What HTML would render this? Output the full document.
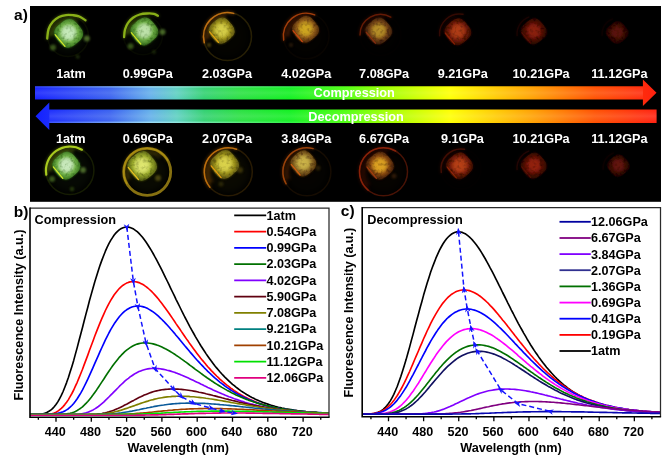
<!DOCTYPE html>
<html><head><meta charset="utf-8"><style>html,body{margin:0;padding:0;background:#fff}svg{display:block;will-change:transform;transform:translateZ(0)}</style></head><body>
<svg width="662" height="461" viewBox="0 0 662 461">
<rect width="662" height="461" fill="#fff"/>
<rect x="30" y="6" width="631" height="195.8" fill="#000"/>
<defs><filter id="b05" x="-30%" y="-30%" width="160%" height="160%"><feGaussianBlur stdDeviation="0.55"/></filter><filter id="b1" x="-30%" y="-30%" width="160%" height="160%"><feGaussianBlur stdDeviation="0.9"/></filter><filter id="b2" x="-30%" y="-30%" width="160%" height="160%"><feGaussianBlur stdDeviation="1.5"/></filter><filter id="b3" x="-30%" y="-30%" width="160%" height="160%"><feGaussianBlur stdDeviation="3.5"/></filter><radialGradient id="sg0" cx="0.5" cy="0.48" r="0.55"><stop offset="0" stop-color="#c8ecbc"/><stop offset="0.28" stop-color="#c8ecbc" stop-opacity="0.9"/><stop offset="0.58" stop-color="#70b048"/><stop offset="0.95" stop-color="#34701a"/></radialGradient><filter id="tx0" x="-20%" y="-20%" width="140%" height="140%"><feTurbulence type="fractalNoise" baseFrequency="0.3" numOctaves="2" seed="1" result="n"/><feColorMatrix in="n" type="matrix" values="0 0 0 0 1  0 0 0 0 1  0 0 0 0 1  1.9 0 0 0 0.02" result="a"/><feComposite in="SourceGraphic" in2="a" operator="in" result="c"/><feGaussianBlur in="c" stdDeviation="0.75"/></filter><radialGradient id="sg1" cx="0.5" cy="0.48" r="0.55"><stop offset="0" stop-color="#c0e4ac"/><stop offset="0.28" stop-color="#c0e4ac" stop-opacity="0.9"/><stop offset="0.58" stop-color="#6cac44"/><stop offset="0.95" stop-color="#346c1a"/></radialGradient><filter id="tx1" x="-20%" y="-20%" width="140%" height="140%"><feTurbulence type="fractalNoise" baseFrequency="0.3" numOctaves="2" seed="2" result="n"/><feColorMatrix in="n" type="matrix" values="0 0 0 0 1  0 0 0 0 1  0 0 0 0 1  1.9 0 0 0 0.02" result="a"/><feComposite in="SourceGraphic" in2="a" operator="in" result="c"/><feGaussianBlur in="c" stdDeviation="0.75"/></filter><radialGradient id="sg2" cx="0.5" cy="0.48" r="0.55"><stop offset="0" stop-color="#d8d048"/><stop offset="0.28" stop-color="#d8d048" stop-opacity="0.9"/><stop offset="0.58" stop-color="#a0941c"/><stop offset="0.95" stop-color="#585010"/></radialGradient><filter id="tx2" x="-20%" y="-20%" width="140%" height="140%"><feTurbulence type="fractalNoise" baseFrequency="0.3" numOctaves="2" seed="3" result="n"/><feColorMatrix in="n" type="matrix" values="0 0 0 0 1  0 0 0 0 1  0 0 0 0 1  1.9 0 0 0 0.02" result="a"/><feComposite in="SourceGraphic" in2="a" operator="in" result="c"/><feGaussianBlur in="c" stdDeviation="0.75"/></filter><radialGradient id="sg3" cx="0.5" cy="0.48" r="0.55"><stop offset="0" stop-color="#d0a820"/><stop offset="0.28" stop-color="#d0a820" stop-opacity="0.9"/><stop offset="0.58" stop-color="#94601a"/><stop offset="0.95" stop-color="#482408"/></radialGradient><filter id="tx3" x="-20%" y="-20%" width="140%" height="140%"><feTurbulence type="fractalNoise" baseFrequency="0.3" numOctaves="2" seed="4" result="n"/><feColorMatrix in="n" type="matrix" values="0 0 0 0 1  0 0 0 0 1  0 0 0 0 1  1.9 0 0 0 0.02" result="a"/><feComposite in="SourceGraphic" in2="a" operator="in" result="c"/><feGaussianBlur in="c" stdDeviation="0.75"/></filter><radialGradient id="sg4" cx="0.5" cy="0.48" r="0.55"><stop offset="0" stop-color="#b89028"/><stop offset="0.28" stop-color="#b89028" stop-opacity="0.9"/><stop offset="0.58" stop-color="#764616"/><stop offset="0.95" stop-color="#341808"/></radialGradient><filter id="tx4" x="-20%" y="-20%" width="140%" height="140%"><feTurbulence type="fractalNoise" baseFrequency="0.3" numOctaves="2" seed="5" result="n"/><feColorMatrix in="n" type="matrix" values="0 0 0 0 1  0 0 0 0 1  0 0 0 0 1  1.9 0 0 0 0.02" result="a"/><feComposite in="SourceGraphic" in2="a" operator="in" result="c"/><feGaussianBlur in="c" stdDeviation="0.75"/></filter><radialGradient id="sg5" cx="0.5" cy="0.48" r="0.55"><stop offset="0" stop-color="#b03c16"/><stop offset="0.28" stop-color="#b03c16" stop-opacity="0.9"/><stop offset="0.58" stop-color="#741c08"/><stop offset="0.95" stop-color="#300a04"/></radialGradient><filter id="tx5" x="-20%" y="-20%" width="140%" height="140%"><feTurbulence type="fractalNoise" baseFrequency="0.3" numOctaves="2" seed="6" result="n"/><feColorMatrix in="n" type="matrix" values="0 0 0 0 1  0 0 0 0 1  0 0 0 0 1  1.9 0 0 0 0.02" result="a"/><feComposite in="SourceGraphic" in2="a" operator="in" result="c"/><feGaussianBlur in="c" stdDeviation="0.75"/></filter><radialGradient id="sg6" cx="0.5" cy="0.48" r="0.55"><stop offset="0" stop-color="#8c200c"/><stop offset="0.28" stop-color="#8c200c" stop-opacity="0.9"/><stop offset="0.58" stop-color="#560c06"/><stop offset="0.95" stop-color="#200604"/></radialGradient><filter id="tx6" x="-20%" y="-20%" width="140%" height="140%"><feTurbulence type="fractalNoise" baseFrequency="0.3" numOctaves="2" seed="7" result="n"/><feColorMatrix in="n" type="matrix" values="0 0 0 0 1  0 0 0 0 1  0 0 0 0 1  1.9 0 0 0 0.02" result="a"/><feComposite in="SourceGraphic" in2="a" operator="in" result="c"/><feGaussianBlur in="c" stdDeviation="0.75"/></filter><radialGradient id="sg7" cx="0.5" cy="0.48" r="0.55"><stop offset="0" stop-color="#5c1208"/><stop offset="0.28" stop-color="#5c1208" stop-opacity="0.9"/><stop offset="0.58" stop-color="#380806"/><stop offset="0.95" stop-color="#160404"/></radialGradient><filter id="tx7" x="-20%" y="-20%" width="140%" height="140%"><feTurbulence type="fractalNoise" baseFrequency="0.3" numOctaves="2" seed="8" result="n"/><feColorMatrix in="n" type="matrix" values="0 0 0 0 1  0 0 0 0 1  0 0 0 0 1  1.9 0 0 0 0.02" result="a"/><feComposite in="SourceGraphic" in2="a" operator="in" result="c"/><feGaussianBlur in="c" stdDeviation="0.75"/></filter><radialGradient id="sg8" cx="0.5" cy="0.48" r="0.55"><stop offset="0" stop-color="#ccecc0"/><stop offset="0.28" stop-color="#ccecc0" stop-opacity="0.9"/><stop offset="0.58" stop-color="#74b44c"/><stop offset="0.95" stop-color="#34701a"/></radialGradient><filter id="tx8" x="-20%" y="-20%" width="140%" height="140%"><feTurbulence type="fractalNoise" baseFrequency="0.3" numOctaves="2" seed="9" result="n"/><feColorMatrix in="n" type="matrix" values="0 0 0 0 1  0 0 0 0 1  0 0 0 0 1  1.9 0 0 0 0.02" result="a"/><feComposite in="SourceGraphic" in2="a" operator="in" result="c"/><feGaussianBlur in="c" stdDeviation="0.75"/></filter><radialGradient id="sg9" cx="0.5" cy="0.48" r="0.55"><stop offset="0" stop-color="#e0e870"/><stop offset="0.28" stop-color="#e0e870" stop-opacity="0.9"/><stop offset="0.58" stop-color="#9cac2c"/><stop offset="0.95" stop-color="#4c5410"/></radialGradient><filter id="tx9" x="-20%" y="-20%" width="140%" height="140%"><feTurbulence type="fractalNoise" baseFrequency="0.3" numOctaves="2" seed="10" result="n"/><feColorMatrix in="n" type="matrix" values="0 0 0 0 1  0 0 0 0 1  0 0 0 0 1  1.9 0 0 0 0.02" result="a"/><feComposite in="SourceGraphic" in2="a" operator="in" result="c"/><feGaussianBlur in="c" stdDeviation="0.75"/></filter><radialGradient id="sg10" cx="0.5" cy="0.48" r="0.55"><stop offset="0" stop-color="#dcd44c"/><stop offset="0.28" stop-color="#dcd44c" stop-opacity="0.9"/><stop offset="0.58" stop-color="#a0961c"/><stop offset="0.95" stop-color="#585010"/></radialGradient><filter id="tx10" x="-20%" y="-20%" width="140%" height="140%"><feTurbulence type="fractalNoise" baseFrequency="0.3" numOctaves="2" seed="11" result="n"/><feColorMatrix in="n" type="matrix" values="0 0 0 0 1  0 0 0 0 1  0 0 0 0 1  1.9 0 0 0 0.02" result="a"/><feComposite in="SourceGraphic" in2="a" operator="in" result="c"/><feGaussianBlur in="c" stdDeviation="0.75"/></filter><radialGradient id="sg11" cx="0.5" cy="0.48" r="0.55"><stop offset="0" stop-color="#ccb448"/><stop offset="0.28" stop-color="#ccb448" stop-opacity="0.9"/><stop offset="0.58" stop-color="#907028"/><stop offset="0.95" stop-color="#4c2c08"/></radialGradient><filter id="tx11" x="-20%" y="-20%" width="140%" height="140%"><feTurbulence type="fractalNoise" baseFrequency="0.3" numOctaves="2" seed="12" result="n"/><feColorMatrix in="n" type="matrix" values="0 0 0 0 1  0 0 0 0 1  0 0 0 0 1  1.9 0 0 0 0.02" result="a"/><feComposite in="SourceGraphic" in2="a" operator="in" result="c"/><feGaussianBlur in="c" stdDeviation="0.75"/></filter><radialGradient id="sg12" cx="0.5" cy="0.48" r="0.55"><stop offset="0" stop-color="#e0a424"/><stop offset="0.28" stop-color="#e0a424" stop-opacity="0.9"/><stop offset="0.58" stop-color="#8c4c12"/><stop offset="0.95" stop-color="#381806"/></radialGradient><filter id="tx12" x="-20%" y="-20%" width="140%" height="140%"><feTurbulence type="fractalNoise" baseFrequency="0.3" numOctaves="2" seed="13" result="n"/><feColorMatrix in="n" type="matrix" values="0 0 0 0 1  0 0 0 0 1  0 0 0 0 1  1.9 0 0 0 0.02" result="a"/><feComposite in="SourceGraphic" in2="a" operator="in" result="c"/><feGaussianBlur in="c" stdDeviation="0.75"/></filter><radialGradient id="sg13" cx="0.5" cy="0.48" r="0.55"><stop offset="0" stop-color="#b84018"/><stop offset="0.28" stop-color="#b84018" stop-opacity="0.9"/><stop offset="0.58" stop-color="#7a1e08"/><stop offset="0.95" stop-color="#300a04"/></radialGradient><filter id="tx13" x="-20%" y="-20%" width="140%" height="140%"><feTurbulence type="fractalNoise" baseFrequency="0.3" numOctaves="2" seed="14" result="n"/><feColorMatrix in="n" type="matrix" values="0 0 0 0 1  0 0 0 0 1  0 0 0 0 1  1.9 0 0 0 0.02" result="a"/><feComposite in="SourceGraphic" in2="a" operator="in" result="c"/><feGaussianBlur in="c" stdDeviation="0.75"/></filter><radialGradient id="sg14" cx="0.5" cy="0.48" r="0.55"><stop offset="0" stop-color="#94220c"/><stop offset="0.28" stop-color="#94220c" stop-opacity="0.9"/><stop offset="0.58" stop-color="#5a0e06"/><stop offset="0.95" stop-color="#220604"/></radialGradient><filter id="tx14" x="-20%" y="-20%" width="140%" height="140%"><feTurbulence type="fractalNoise" baseFrequency="0.3" numOctaves="2" seed="15" result="n"/><feColorMatrix in="n" type="matrix" values="0 0 0 0 1  0 0 0 0 1  0 0 0 0 1  1.9 0 0 0 0.02" result="a"/><feComposite in="SourceGraphic" in2="a" operator="in" result="c"/><feGaussianBlur in="c" stdDeviation="0.75"/></filter><radialGradient id="sg15" cx="0.5" cy="0.48" r="0.55"><stop offset="0" stop-color="#64140a"/><stop offset="0.28" stop-color="#64140a" stop-opacity="0.9"/><stop offset="0.58" stop-color="#3c0a06"/><stop offset="0.95" stop-color="#160404"/></radialGradient><filter id="tx15" x="-20%" y="-20%" width="140%" height="140%"><feTurbulence type="fractalNoise" baseFrequency="0.3" numOctaves="2" seed="16" result="n"/><feColorMatrix in="n" type="matrix" values="0 0 0 0 1  0 0 0 0 1  0 0 0 0 1  1.9 0 0 0 0.02" result="a"/><feComposite in="SourceGraphic" in2="a" operator="in" result="c"/><feGaussianBlur in="c" stdDeviation="0.75"/></filter></defs>
<circle cx="68" cy="36" r="17.4" fill="#70b048" opacity="0.050" filter="url(#b3)"/><circle cx="68" cy="36" r="20.4" fill="none" stroke="#567010" stroke-width="1.5" opacity="0.1" filter="url(#b05)"/><path d="M47.2,38.5 C47.4,36.9 47.6,31.8 48.6,29.0 C49.6,26.2 51.3,23.6 53.0,21.6 C54.7,19.6 56.8,18.1 59.0,17.0 C61.2,15.9 63.7,15.4 66.0,15.1 C68.3,14.8 70.8,15.0 73.0,15.2 C75.2,15.4 76.9,15.5 79.0,16.4 C81.1,17.2 84.4,19.6 85.5,20.3" fill="none" stroke="#9cc81c" stroke-width="3" stroke-linecap="round" opacity="0.30" filter="url(#b2)"/><path d="M47.2,38.5 C47.4,36.9 47.6,31.8 48.6,29.0 C49.6,26.2 51.3,23.6 53.0,21.6 C54.7,19.6 56.8,18.1 59.0,17.0 C61.2,15.9 63.7,15.4 66.0,15.1 C68.3,14.8 70.8,15.0 73.0,15.2 C75.2,15.4 76.9,15.5 79.0,16.4 C81.1,17.2 84.4,19.6 85.5,20.3" fill="none" stroke="#9cc81c" stroke-width="2.3" stroke-linecap="round" opacity="0.85" filter="url(#b05)"/><path d="M51.6,36.5 A16.9,16.9 0 0 1 77.5,22.2" fill="none" stroke="#9cc81c" stroke-width="6" opacity="0.19" filter="url(#b2)"/><path d="M51.7,35.4 A17.4,17.4 0 0 1 74.1,20.9" fill="none" stroke="#9cc81c" stroke-width="1.2" opacity="0.26" filter="url(#b1)"/><circle cx="86.8" cy="38.5" r="3" fill="#5c8030" opacity="0.8" filter="url(#b1)"/><circle cx="53" cy="47.6" r="3" fill="#507828" opacity="0.7" filter="url(#b1)"/><circle cx="77.7" cy="56.7" r="2" fill="#304810" opacity="0.6" filter="url(#b1)"/><path d="M80.0,27.0 Q86.6,34.9 78.8,41.4 L74.9,44.7 Q67.0,51.3 60.5,43.5 L57.2,39.6 Q50.6,31.7 58.4,25.2 L62.3,21.9 Q70.2,15.3 76.7,23.1 Z" fill="#34701a" opacity="0.9" filter="url(#b1)"/><path d="M80.0,27.0 Q86.6,34.9 78.8,41.4 L74.9,44.7 Q67.0,51.3 60.5,43.5 L57.2,39.6 Q50.6,31.7 58.4,25.2 L62.3,21.9 Q70.2,15.3 76.7,23.1 Z" fill="url(#sg0)" filter="url(#tx0)"/><circle cx="68.6" cy="32.8" r="7.4" fill="#c8ecbc" opacity="0.55" filter="url(#b2)"/><path d="M55.1,34.6 L65.0,46.4" fill="none" stroke="#d8e828" stroke-width="1.2" stroke-linecap="round" stroke-linejoin="round" opacity="1.0" filter="url(#b05)"/><circle cx="143" cy="35.3" r="16.5" fill="#6cac44" opacity="0.045" filter="url(#b3)"/><circle cx="143" cy="35.3" r="19.5" fill="none" stroke="#506810" stroke-width="1.5" opacity="0.08" filter="url(#b05)"/><path d="M124.1,37.2 C124.2,35.9 124.3,31.9 125.0,29.5 C125.7,27.1 126.7,24.8 128.0,22.9 C129.3,20.9 131.1,19.2 133.0,17.8 C134.9,16.4 137.4,15.2 139.7,14.5 C142.0,13.8 144.6,13.6 147.0,13.5 C149.4,13.4 152.2,13.4 154.0,13.8 C155.8,14.2 157.2,15.5 157.9,15.8" fill="none" stroke="#9cc81c" stroke-width="3" stroke-linecap="round" opacity="0.30" filter="url(#b2)"/><path d="M124.1,37.2 C124.2,35.9 124.3,31.9 125.0,29.5 C125.7,27.1 126.7,24.8 128.0,22.9 C129.3,20.9 131.1,19.2 133.0,17.8 C134.9,16.4 137.4,15.2 139.7,14.5 C142.0,13.8 144.6,13.6 147.0,13.5 C149.4,13.4 152.2,13.4 154.0,13.8 C155.8,14.2 157.2,15.5 157.9,15.8" fill="none" stroke="#9cc81c" stroke-width="2.3" stroke-linecap="round" opacity="0.85" filter="url(#b05)"/><path d="M127.5,34.7 A16.0,16.0 0 0 1 149.5,21.0" fill="none" stroke="#9cc81c" stroke-width="6" opacity="0.19" filter="url(#b2)"/><path d="M127.8,33.7 A16.5,16.5 0 0 1 146.0,20.4" fill="none" stroke="#9cc81c" stroke-width="1.2" opacity="0.26" filter="url(#b1)"/><circle cx="162.5" cy="32" r="3" fill="#588030" opacity="0.8" filter="url(#b1)"/><circle cx="130.6" cy="46.3" r="3" fill="#4c7424" opacity="0.7" filter="url(#b1)"/><circle cx="154" cy="52" r="2" fill="#304810" opacity="0.5" filter="url(#b1)"/><path d="M155.4,25.3 Q161.7,32.9 154.2,39.3 L150.4,42.5 Q142.8,48.8 136.4,41.3 L133.2,37.5 Q126.9,29.9 134.4,23.5 L138.2,20.3 Q145.8,14.0 152.2,21.5 Z" fill="#346c1a" opacity="0.9" filter="url(#b1)"/><path d="M155.4,25.3 Q161.7,32.9 154.2,39.3 L150.4,42.5 Q142.8,48.8 136.4,41.3 L133.2,37.5 Q126.9,29.9 134.4,23.5 L138.2,20.3 Q145.8,14.0 152.2,21.5 Z" fill="url(#sg1)" filter="url(#tx1)"/><circle cx="144.3" cy="30.9" r="7.1" fill="#c0e4ac" opacity="0.55" filter="url(#b2)"/><path d="M131.3,32.6 L140.8,44.0" fill="none" stroke="#d0e020" stroke-width="1.2" stroke-linecap="round" stroke-linejoin="round" opacity="1.0" filter="url(#b05)"/><circle cx="227.5" cy="36.6" r="21" fill="#a0941c" opacity="0.025" filter="url(#b3)"/><circle cx="227.5" cy="36.6" r="24" fill="none" stroke="#6c5810" stroke-width="1.5" opacity="0.36" filter="url(#b05)"/><path d="M204.3,42.8 A24,24 0 0 1 233.7,13.4" fill="none" stroke="#c87414" stroke-width="3" stroke-linecap="round" opacity="0.32" filter="url(#b2)"/><path d="M204.3,42.8 A24,24 0 0 1 233.7,13.4" fill="none" stroke="#c87414" stroke-width="1.5" stroke-linecap="round" opacity="0.9" filter="url(#b05)"/><path d="M207.7,39.6 A20.5,20.5 0 0 1 226.2,16.7" fill="none" stroke="#c87414" stroke-width="6" opacity="0.20" filter="url(#b2)"/><path d="M207.5,38.1 A21,21 0 0 1 221.3,18.4" fill="none" stroke="#c87414" stroke-width="1.2" opacity="0.27" filter="url(#b1)"/><circle cx="209" cy="45" r="2.2" fill="#605010" opacity="0.7" filter="url(#b1)"/><path d="M232.1,25.0 Q238.0,32.1 230.9,38.1 L227.4,41.1 Q220.3,47.0 214.3,39.9 L211.3,36.4 Q205.4,29.3 212.5,23.3 L216.0,20.3 Q223.1,14.4 229.1,21.5 Z" fill="#585010" opacity="0.9" filter="url(#b1)"/><path d="M232.1,25.0 Q238.0,32.1 230.9,38.1 L227.4,41.1 Q220.3,47.0 214.3,39.9 L211.3,36.4 Q205.4,29.3 212.5,23.3 L216.0,20.3 Q223.1,14.4 229.1,21.5 Z" fill="url(#sg2)" filter="url(#tx2)"/><circle cx="221.7" cy="30.2" r="6.7" fill="#d8d048" opacity="0.55" filter="url(#b2)"/><path d="M209.6,31.8 L218.5,42.4" fill="none" stroke="#e8a410" stroke-width="1.2" stroke-linecap="round" stroke-linejoin="round" opacity="1.0" filter="url(#b05)"/><circle cx="306.2" cy="36" r="19.8" fill="#94601a" opacity="0.020" filter="url(#b3)"/><circle cx="306.2" cy="36" r="22.8" fill="none" stroke="#502808" stroke-width="1.5" opacity="0.1" filter="url(#b05)"/><path d="M283.7,40.0 A22.8,22.8 0 0 1 314.7,14.9" fill="none" stroke="#c84c10" stroke-width="3" stroke-linecap="round" opacity="0.26" filter="url(#b2)"/><path d="M283.7,40.0 A22.8,22.8 0 0 1 314.7,14.9" fill="none" stroke="#c84c10" stroke-width="1.5" stroke-linecap="round" opacity="0.75" filter="url(#b05)"/><path d="M287.4,37.2 A19.3,19.3 0 0 1 307.4,17.2" fill="none" stroke="#c84c10" stroke-width="6" opacity="0.17" filter="url(#b2)"/><path d="M287.5,35.8 A19.8,19.8 0 0 1 302.7,18.2" fill="none" stroke="#c84c10" stroke-width="1.2" opacity="0.22" filter="url(#b1)"/><circle cx="291" cy="45" r="2" fill="#503010" opacity="0.5" filter="url(#b1)"/><path d="M316.3,23.5 Q322.5,30.9 315.1,37.0 L311.5,40.1 Q304.1,46.3 298.0,38.9 L294.9,35.3 Q288.7,27.9 296.1,21.8 L299.7,18.7 Q307.1,12.5 313.2,19.9 Z" fill="#482408" opacity="0.9" filter="url(#b1)"/><path d="M316.3,23.5 Q322.5,30.9 315.1,37.0 L311.5,40.1 Q304.1,46.3 298.0,38.9 L294.9,35.3 Q288.7,27.9 296.1,21.8 L299.7,18.7 Q307.1,12.5 313.2,19.9 Z" fill="url(#sg3)" filter="url(#tx3)"/><circle cx="305.6" cy="28.9" r="6.9" fill="#d0a820" opacity="0.55" filter="url(#b2)"/><path d="M293.0,30.6 L302.3,41.6" fill="none" stroke="#cc4410" stroke-width="1.2" stroke-linecap="round" stroke-linejoin="round" opacity="1.0" filter="url(#b05)"/><circle cx="380.5" cy="35" r="17.5" fill="#764616" opacity="0.015" filter="url(#b3)"/><circle cx="380.5" cy="35" r="20.5" fill="none" stroke="#401004" stroke-width="1.5" opacity="0.04" filter="url(#b05)"/><path d="M360.0,35.0 A20.5,20.5 0 0 1 390.8,17.2" fill="none" stroke="#a02c08" stroke-width="3" stroke-linecap="round" opacity="0.19" filter="url(#b2)"/><path d="M360.0,35.0 A20.5,20.5 0 0 1 390.8,17.2" fill="none" stroke="#a02c08" stroke-width="1.5" stroke-linecap="round" opacity="0.55" filter="url(#b05)"/><path d="M364.2,33.1 A17.0,17.0 0 0 1 384.0,18.8" fill="none" stroke="#a02c08" stroke-width="6" opacity="0.12" filter="url(#b2)"/><path d="M364.6,32.0 A17.5,17.5 0 0 1 380.0,19.1" fill="none" stroke="#a02c08" stroke-width="1.2" opacity="0.17" filter="url(#b1)"/><path d="M389.4,25.1 Q395.6,32.5 388.2,38.6 L384.6,41.7 Q377.2,47.9 371.1,40.5 L368.0,36.9 Q361.8,29.5 369.2,23.4 L372.8,20.3 Q380.2,14.1 386.3,21.5 Z" fill="#341808" opacity="0.9" filter="url(#b1)"/><path d="M389.4,25.1 Q395.6,32.5 388.2,38.6 L384.6,41.7 Q377.2,47.9 371.1,40.5 L368.0,36.9 Q361.8,29.5 369.2,23.4 L372.8,20.3 Q380.2,14.1 386.3,21.5 Z" fill="url(#sg4)" filter="url(#tx4)"/><circle cx="378.7" cy="30.5" r="6.9" fill="#b89028" opacity="0.55" filter="url(#b2)"/><path d="M366.1,32.2 L375.4,43.2" fill="none" stroke="#a43010" stroke-width="1.2" stroke-linecap="round" stroke-linejoin="round" opacity="0.7" filter="url(#b05)"/><circle cx="459.5" cy="34" r="17" fill="#741c08" opacity="0.015" filter="url(#b3)"/><circle cx="459.5" cy="34" r="20" fill="none" stroke="#300804" stroke-width="1.5" opacity="0.03" filter="url(#b05)"/><path d="M439.6,35.7 A20,20 0 0 1 463.0,14.3" fill="none" stroke="#8c1c08" stroke-width="3" stroke-linecap="round" opacity="0.10" filter="url(#b2)"/><path d="M439.6,35.7 A20,20 0 0 1 463.0,14.3" fill="none" stroke="#8c1c08" stroke-width="1.5" stroke-linecap="round" opacity="0.3" filter="url(#b05)"/><path d="M443.5,33.6 A16.5,16.5 0 0 1 457.1,18.3" fill="none" stroke="#8c1c08" stroke-width="6" opacity="0.07" filter="url(#b2)"/><path d="M443.8,32.5 A17,17 0 0 1 453.3,20.1" fill="none" stroke="#8c1c08" stroke-width="1.2" opacity="0.09" filter="url(#b1)"/><path d="M468.5,25.9 Q474.7,33.3 467.3,39.4 L463.7,42.5 Q456.3,48.7 450.2,41.3 L447.1,37.7 Q440.9,30.3 448.3,24.2 L451.9,21.1 Q459.3,14.9 465.4,22.3 Z" fill="#300a04" opacity="0.9" filter="url(#b1)"/><path d="M468.5,25.9 Q474.7,33.3 467.3,39.4 L463.7,42.5 Q456.3,48.7 450.2,41.3 L447.1,37.7 Q440.9,30.3 448.3,24.2 L451.9,21.1 Q459.3,14.9 465.4,22.3 Z" fill="url(#sg5)" filter="url(#tx5)"/><circle cx="457.8" cy="31.3" r="6.9" fill="#b03c16" opacity="0.55" filter="url(#b2)"/><path d="M445.2,33.0 L454.5,44.0" fill="none" stroke="#b02808" stroke-width="1.2" stroke-linecap="round" stroke-linejoin="round" opacity="0.6" filter="url(#b05)"/><circle cx="535" cy="34" r="15" fill="#560c06" opacity="0.010" filter="url(#b3)"/><circle cx="535" cy="34" r="18" fill="none" stroke="#200404" stroke-width="1.5" opacity="0.02" filter="url(#b05)"/><path d="M517.1,35.6 A18,18 0 0 1 528.8,17.1" fill="none" stroke="#681008" stroke-width="3" stroke-linecap="round" opacity="0.07" filter="url(#b2)"/><path d="M517.1,35.6 A18,18 0 0 1 528.8,17.1" fill="none" stroke="#681008" stroke-width="1.5" stroke-linecap="round" opacity="0.2" filter="url(#b05)"/><path d="M521.0,33.7 A14.5,14.5 0 0 1 526.2,23.4" fill="none" stroke="#681008" stroke-width="6" opacity="0.04" filter="url(#b2)"/><path d="M521.2,32.9 A15,15 0 0 1 523.7,26.9" fill="none" stroke="#681008" stroke-width="1.2" opacity="0.06" filter="url(#b1)"/><path d="M544.2,25.7 Q550.1,32.8 543.0,38.8 L539.5,41.8 Q532.4,47.7 526.4,40.6 L523.4,37.1 Q517.5,30.0 524.6,24.0 L528.1,21.0 Q535.2,15.1 541.2,22.2 Z" fill="#200604" opacity="0.9" filter="url(#b1)"/><path d="M544.2,25.7 Q550.1,32.8 543.0,38.8 L539.5,41.8 Q532.4,47.7 526.4,40.6 L523.4,37.1 Q517.5,30.0 524.6,24.0 L528.1,21.0 Q535.2,15.1 541.2,22.2 Z" fill="url(#sg6)" filter="url(#tx6)"/><circle cx="533.8" cy="30.9" r="6.7" fill="#8c200c" opacity="0.55" filter="url(#b2)"/><path d="M521.7,32.5 L530.6,43.1" fill="none" stroke="#801408" stroke-width="1.2" stroke-linecap="round" stroke-linejoin="round" opacity="0.4" filter="url(#b05)"/><circle cx="618" cy="34" r="13" fill="#380806" opacity="0.010" filter="url(#b3)"/><circle cx="618" cy="34" r="16" fill="none" stroke="#200404" stroke-width="1.5" opacity="0.02" filter="url(#b05)"/><path d="M602.1,35.4 A16,16 0 0 1 612.5,19.0" fill="none" stroke="#400804" stroke-width="3" stroke-linecap="round" opacity="0.05" filter="url(#b2)"/><path d="M602.1,35.4 A16,16 0 0 1 612.5,19.0" fill="none" stroke="#400804" stroke-width="1.5" stroke-linecap="round" opacity="0.15" filter="url(#b05)"/><path d="M606.0,33.8 A12.5,12.5 0 0 1 610.5,24.9" fill="none" stroke="#400804" stroke-width="6" opacity="0.03" filter="url(#b2)"/><path d="M606.2,33.2 A13,13 0 0 1 608.4,28.0" fill="none" stroke="#400804" stroke-width="1.2" opacity="0.04" filter="url(#b1)"/><path d="M626.1,27.7 Q631.3,33.8 625.2,39.0 L622.1,41.5 Q616.0,46.7 610.8,40.6 L608.3,37.5 Q603.1,31.4 609.2,26.2 L612.3,23.7 Q618.4,18.5 623.6,24.6 Z" fill="#160404" opacity="0.9" filter="url(#b1)"/><path d="M626.1,27.7 Q631.3,33.8 625.2,39.0 L622.1,41.5 Q616.0,46.7 610.8,40.6 L608.3,37.5 Q603.1,31.4 609.2,26.2 L612.3,23.7 Q618.4,18.5 623.6,24.6 Z" fill="url(#sg7)" filter="url(#tx7)"/><circle cx="617.2" cy="32.1" r="5.8" fill="#5c1208" opacity="0.55" filter="url(#b2)"/><path d="M606.9,33.4 L614.6,42.6" fill="none" stroke="#500c06" stroke-width="1.2" stroke-linecap="round" stroke-linejoin="round" opacity="0.3" filter="url(#b05)"/><circle cx="69.9" cy="170.5" r="21" fill="#74b44c" opacity="0.050" filter="url(#b3)"/><circle cx="69.9" cy="170.5" r="24" fill="none" stroke="#607c10" stroke-width="1.5" opacity="0.22" filter="url(#b05)"/><path d="M46.3,174.7 A24,24 0 0 1 81.9,149.7" fill="none" stroke="#b4d820" stroke-width="3" stroke-linecap="round" opacity="0.32" filter="url(#b2)"/><path d="M46.3,174.7 A24,24 0 0 1 81.9,149.7" fill="none" stroke="#b4d820" stroke-width="2.2" stroke-linecap="round" opacity="0.9" filter="url(#b05)"/><path d="M49.9,171.7 A20.5,20.5 0 0 1 74.0,150.8" fill="none" stroke="#b4d820" stroke-width="6" opacity="0.20" filter="url(#b2)"/><path d="M50.0,170.2 A21,21 0 0 1 69.1,151.1" fill="none" stroke="#b4d820" stroke-width="1.2" opacity="0.27" filter="url(#b1)"/><circle cx="83" cy="170" r="3" fill="#5c8030" opacity="0.8" filter="url(#b1)"/><circle cx="52" cy="179" r="3" fill="#507828" opacity="0.7" filter="url(#b1)"/><circle cx="72" cy="189" r="2.2" fill="#3c5c14" opacity="0.6" filter="url(#b1)"/><path d="M77.4,159.6 Q83.7,167.2 76.2,173.6 L72.4,176.8 Q64.8,183.1 58.4,175.6 L55.2,171.8 Q48.9,164.2 56.4,157.8 L60.2,154.6 Q67.8,148.3 74.2,155.8 Z" fill="#34701a" opacity="0.9" filter="url(#b1)"/><path d="M77.4,159.6 Q83.7,167.2 76.2,173.6 L72.4,176.8 Q64.8,183.1 58.4,175.6 L55.2,171.8 Q48.9,164.2 56.4,157.8 L60.2,154.6 Q67.8,148.3 74.2,155.8 Z" fill="url(#sg8)" filter="url(#tx8)"/><circle cx="66.3" cy="165.2" r="7.1" fill="#ccecc0" opacity="0.55" filter="url(#b2)"/><path d="M53.3,166.9 L62.8,178.3" fill="none" stroke="#d8e828" stroke-width="1.2" stroke-linecap="round" stroke-linejoin="round" opacity="1.0" filter="url(#b05)"/><circle cx="147.2" cy="171.8" r="20.5" fill="#9cac2c" opacity="0.060" filter="url(#b3)"/><circle cx="147.2" cy="171.8" r="23.5" fill="none" stroke="#a88c14" stroke-width="2.8" opacity="0.8" filter="url(#b05)"/><path d="M126.8,183.6 A23.5,23.5 0 0 1 167.6,160.1" fill="none" stroke="#b89814" stroke-width="3" stroke-linecap="round" opacity="0.24" filter="url(#b2)"/><path d="M126.8,183.6 A23.5,23.5 0 0 1 167.6,160.1" fill="none" stroke="#b89814" stroke-width="1.5" stroke-linecap="round" opacity="0.7" filter="url(#b05)"/><path d="M129.2,179.8 A20.0,20.0 0 0 1 160.6,157.0" fill="none" stroke="#b89814" stroke-width="6" opacity="0.15" filter="url(#b2)"/><path d="M128.4,178.6 A20.5,20.5 0 0 1 156.9,154.7" fill="none" stroke="#b89814" stroke-width="1.2" opacity="0.21" filter="url(#b1)"/><circle cx="158" cy="178" r="3" fill="#706818" opacity="0.6" filter="url(#b1)"/><path d="M154.0,159.5 Q160.8,167.6 152.7,174.4 L148.7,177.8 Q140.6,184.6 133.8,176.5 L130.4,172.5 Q123.6,164.4 131.7,157.6 L135.7,154.2 Q143.8,147.4 150.6,155.5 Z" fill="#4c5410" opacity="0.9" filter="url(#b1)"/><path d="M154.0,159.5 Q160.8,167.6 152.7,174.4 L148.7,177.8 Q140.6,184.6 133.8,176.5 L130.4,172.5 Q123.6,164.4 131.7,157.6 L135.7,154.2 Q143.8,147.4 150.6,155.5 Z" fill="url(#sg9)" filter="url(#tx9)"/><circle cx="142.2" cy="165.5" r="7.6" fill="#e0e870" opacity="0.55" filter="url(#b2)"/><path d="M128.2,167.4 L138.4,179.5" fill="none" stroke="#e8c020" stroke-width="1.2" stroke-linecap="round" stroke-linejoin="round" opacity="1.0" filter="url(#b05)"/><circle cx="228.3" cy="171.8" r="21" fill="#a0961c" opacity="0.060" filter="url(#b3)"/><circle cx="228.3" cy="171.8" r="24" fill="none" stroke="#8c5c0c" stroke-width="1.5" opacity="0.28" filter="url(#b05)"/><path d="M209.9,187.2 A24,24 0 0 1 236.5,149.2" fill="none" stroke="#c87410" stroke-width="3" stroke-linecap="round" opacity="0.32" filter="url(#b2)"/><path d="M209.9,187.2 A24,24 0 0 1 236.5,149.2" fill="none" stroke="#c87410" stroke-width="1.5" stroke-linecap="round" opacity="0.9" filter="url(#b05)"/><path d="M211.4,183.2 A20.5,20.5 0 0 1 228.8,151.8" fill="none" stroke="#c87410" stroke-width="6" opacity="0.20" filter="url(#b2)"/><path d="M210.3,182.2 A21,21 0 0 1 223.9,153.0" fill="none" stroke="#c87410" stroke-width="1.2" opacity="0.27" filter="url(#b1)"/><circle cx="240" cy="170" r="3" fill="#5c5010" opacity="0.6" filter="url(#b1)"/><circle cx="221" cy="184" r="2.5" fill="#4c4410" opacity="0.5" filter="url(#b1)"/><path d="M236.1,158.2 Q242.7,166.1 234.9,172.6 L231.0,175.9 Q223.1,182.5 216.6,174.7 L213.3,170.8 Q206.7,162.9 214.5,156.4 L218.4,153.1 Q226.3,146.5 232.8,154.3 Z" fill="#585010" opacity="0.9" filter="url(#b1)"/><path d="M236.1,158.2 Q242.7,166.1 234.9,172.6 L231.0,175.9 Q223.1,182.5 216.6,174.7 L213.3,170.8 Q206.7,162.9 214.5,156.4 L218.4,153.1 Q226.3,146.5 232.8,154.3 Z" fill="url(#sg10)" filter="url(#tx10)"/><circle cx="224.7" cy="164.0" r="7.4" fill="#dcd44c" opacity="0.55" filter="url(#b2)"/><path d="M211.2,165.8 L221.1,177.6" fill="none" stroke="#e89c10" stroke-width="1.2" stroke-linecap="round" stroke-linejoin="round" opacity="1.0" filter="url(#b05)"/><circle cx="306.9" cy="171.8" r="21" fill="#907028" opacity="0.030" filter="url(#b3)"/><circle cx="306.9" cy="171.8" r="24" fill="none" stroke="#6c3c08" stroke-width="1.5" opacity="0.2" filter="url(#b05)"/><path d="M286.1,183.8 A24,24 0 0 1 313.1,148.6" fill="none" stroke="#c45410" stroke-width="3" stroke-linecap="round" opacity="0.24" filter="url(#b2)"/><path d="M286.1,183.8 A24,24 0 0 1 313.1,148.6" fill="none" stroke="#c45410" stroke-width="1.5" stroke-linecap="round" opacity="0.7" filter="url(#b05)"/><path d="M288.4,180.0 A20.5,20.5 0 0 1 305.6,151.9" fill="none" stroke="#c45410" stroke-width="6" opacity="0.15" filter="url(#b2)"/><path d="M287.6,178.7 A21,21 0 0 1 300.7,153.6" fill="none" stroke="#c45410" stroke-width="1.2" opacity="0.21" filter="url(#b1)"/><circle cx="318" cy="168" r="2.5" fill="#503c10" opacity="0.5" filter="url(#b1)"/><path d="M313.7,157.6 Q319.6,164.7 312.5,170.7 L309.0,173.7 Q301.9,179.6 295.9,172.5 L292.9,169.0 Q287.0,161.9 294.1,155.9 L297.6,152.9 Q304.7,147.0 310.7,154.1 Z" fill="#4c2c08" opacity="0.9" filter="url(#b1)"/><path d="M313.7,157.6 Q319.6,164.7 312.5,170.7 L309.0,173.7 Q301.9,179.6 295.9,172.5 L292.9,169.0 Q287.0,161.9 294.1,155.9 L297.6,152.9 Q304.7,147.0 310.7,154.1 Z" fill="url(#sg11)" filter="url(#tx11)"/><circle cx="303.3" cy="162.8" r="6.7" fill="#ccb448" opacity="0.55" filter="url(#b2)"/><path d="M291.2,164.4 L300.1,175.0" fill="none" stroke="#d05c10" stroke-width="1.2" stroke-linecap="round" stroke-linejoin="round" opacity="1.0" filter="url(#b05)"/><circle cx="383.5" cy="171.8" r="21" fill="#8c4c12" opacity="0.040" filter="url(#b3)"/><circle cx="383.5" cy="171.8" r="24" fill="none" stroke="#a02a0c" stroke-width="1.5" opacity="0.45" filter="url(#b05)"/><path d="M368.1,190.2 A24,24 0 0 1 395.5,151.0" fill="none" stroke="#b02c0c" stroke-width="3" stroke-linecap="round" opacity="0.19" filter="url(#b2)"/><path d="M368.1,190.2 A24,24 0 0 1 395.5,151.0" fill="none" stroke="#b02c0c" stroke-width="1.5" stroke-linecap="round" opacity="0.55" filter="url(#b05)"/><path d="M368.8,186.0 A20.5,20.5 0 0 1 387.6,152.1" fill="none" stroke="#b02c0c" stroke-width="6" opacity="0.12" filter="url(#b2)"/><path d="M367.3,185.3 A21,21 0 0 1 382.7,152.4" fill="none" stroke="#b02c0c" stroke-width="1.2" opacity="0.17" filter="url(#b1)"/><circle cx="394" cy="176" r="2.5" fill="#583010" opacity="0.5" filter="url(#b1)"/><path d="M391.0,159.6 Q397.3,167.2 389.8,173.6 L386.0,176.8 Q378.4,183.1 372.0,175.6 L368.8,171.8 Q362.5,164.2 370.0,157.8 L373.8,154.6 Q381.4,148.3 387.8,155.8 Z" fill="#381806" opacity="0.9" filter="url(#b1)"/><path d="M391.0,159.6 Q397.3,167.2 389.8,173.6 L386.0,176.8 Q378.4,183.1 372.0,175.6 L368.8,171.8 Q362.5,164.2 370.0,157.8 L373.8,154.6 Q381.4,148.3 387.8,155.8 Z" fill="url(#sg12)" filter="url(#tx12)"/><circle cx="379.9" cy="165.2" r="7.1" fill="#e0a424" opacity="0.55" filter="url(#b2)"/><path d="M366.9,166.9 L376.4,178.3" fill="none" stroke="#c04010" stroke-width="1.2" stroke-linecap="round" stroke-linejoin="round" opacity="0.7" filter="url(#b05)"/><circle cx="461" cy="169" r="17" fill="#7a1e08" opacity="0.020" filter="url(#b3)"/><circle cx="461" cy="169" r="20" fill="none" stroke="#300804" stroke-width="1.5" opacity="0.05" filter="url(#b05)"/><path d="M441.3,172.5 A20,20 0 0 1 464.5,149.3" fill="none" stroke="#9c2008" stroke-width="3" stroke-linecap="round" opacity="0.12" filter="url(#b2)"/><path d="M441.3,172.5 A20,20 0 0 1 464.5,149.3" fill="none" stroke="#9c2008" stroke-width="1.5" stroke-linecap="round" opacity="0.35" filter="url(#b05)"/><path d="M445.0,170.1 A16.5,16.5 0 0 1 458.6,153.3" fill="none" stroke="#9c2008" stroke-width="6" opacity="0.08" filter="url(#b2)"/><path d="M445.1,169.0 A17,17 0 0 1 454.8,155.1" fill="none" stroke="#9c2008" stroke-width="1.2" opacity="0.10" filter="url(#b1)"/><path d="M470.3,159.8 Q476.5,167.2 469.1,173.3 L465.5,176.4 Q458.1,182.6 452.0,175.2 L448.9,171.6 Q442.7,164.2 450.1,158.1 L453.7,155.0 Q461.1,148.8 467.2,156.2 Z" fill="#300a04" opacity="0.9" filter="url(#b1)"/><path d="M470.3,159.8 Q476.5,167.2 469.1,173.3 L465.5,176.4 Q458.1,182.6 452.0,175.2 L448.9,171.6 Q442.7,164.2 450.1,158.1 L453.7,155.0 Q461.1,148.8 467.2,156.2 Z" fill="url(#sg13)" filter="url(#tx13)"/><circle cx="459.6" cy="165.2" r="6.9" fill="#b84018" opacity="0.55" filter="url(#b2)"/><path d="M447.0,166.9 L456.3,177.9" fill="none" stroke="#b03008" stroke-width="1.2" stroke-linecap="round" stroke-linejoin="round" opacity="0.6" filter="url(#b05)"/><circle cx="535" cy="168" r="15" fill="#5a0e06" opacity="0.010" filter="url(#b3)"/><circle cx="535" cy="168" r="18" fill="none" stroke="#200404" stroke-width="1.5" opacity="0.02" filter="url(#b05)"/><path d="M517.1,169.6 A18,18 0 0 1 528.8,151.1" fill="none" stroke="#701008" stroke-width="3" stroke-linecap="round" opacity="0.09" filter="url(#b2)"/><path d="M517.1,169.6 A18,18 0 0 1 528.8,151.1" fill="none" stroke="#701008" stroke-width="1.5" stroke-linecap="round" opacity="0.25" filter="url(#b05)"/><path d="M521.0,167.7 A14.5,14.5 0 0 1 526.2,157.4" fill="none" stroke="#701008" stroke-width="6" opacity="0.06" filter="url(#b2)"/><path d="M521.2,166.9 A15,15 0 0 1 523.7,160.9" fill="none" stroke="#701008" stroke-width="1.2" opacity="0.07" filter="url(#b1)"/><path d="M544.2,160.0 Q550.1,167.1 543.0,173.1 L539.5,176.1 Q532.4,182.0 526.4,174.9 L523.4,171.4 Q517.5,164.3 524.6,158.3 L528.1,155.3 Q535.2,149.4 541.2,156.5 Z" fill="#220604" opacity="0.9" filter="url(#b1)"/><path d="M544.2,160.0 Q550.1,167.1 543.0,173.1 L539.5,176.1 Q532.4,182.0 526.4,174.9 L523.4,171.4 Q517.5,164.3 524.6,158.3 L528.1,155.3 Q535.2,149.4 541.2,156.5 Z" fill="url(#sg14)" filter="url(#tx14)"/><circle cx="533.8" cy="165.2" r="6.7" fill="#94220c" opacity="0.55" filter="url(#b2)"/><path d="M521.7,166.8 L530.6,177.4" fill="none" stroke="#801408" stroke-width="1.2" stroke-linecap="round" stroke-linejoin="round" opacity="0.4" filter="url(#b05)"/><circle cx="619" cy="168" r="13" fill="#3c0a06" opacity="0.010" filter="url(#b3)"/><circle cx="619" cy="168" r="16" fill="none" stroke="#200404" stroke-width="1.5" opacity="0.02" filter="url(#b05)"/><path d="M603.1,169.4 A16,16 0 0 1 613.5,153.0" fill="none" stroke="#400804" stroke-width="3" stroke-linecap="round" opacity="0.05" filter="url(#b2)"/><path d="M603.1,169.4 A16,16 0 0 1 613.5,153.0" fill="none" stroke="#400804" stroke-width="1.5" stroke-linecap="round" opacity="0.15" filter="url(#b05)"/><path d="M607.0,167.8 A12.5,12.5 0 0 1 611.5,158.9" fill="none" stroke="#400804" stroke-width="6" opacity="0.03" filter="url(#b2)"/><path d="M607.2,167.2 A13,13 0 0 1 609.4,162.0" fill="none" stroke="#400804" stroke-width="1.2" opacity="0.04" filter="url(#b1)"/><path d="M627.3,160.8 Q632.5,166.9 626.4,172.1 L623.3,174.6 Q617.2,179.8 612.0,173.7 L609.5,170.6 Q604.3,164.5 610.4,159.3 L613.5,156.8 Q619.6,151.6 624.8,157.7 Z" fill="#160404" opacity="0.9" filter="url(#b1)"/><path d="M627.3,160.8 Q632.5,166.9 626.4,172.1 L623.3,174.6 Q617.2,179.8 612.0,173.7 L609.5,170.6 Q604.3,164.5 610.4,159.3 L613.5,156.8 Q619.6,151.6 624.8,157.7 Z" fill="url(#sg15)" filter="url(#tx15)"/><circle cx="618.4" cy="165.2" r="5.8" fill="#64140a" opacity="0.55" filter="url(#b2)"/><path d="M608.1,166.5 L615.8,175.7" fill="none" stroke="#500c06" stroke-width="1.2" stroke-linecap="round" stroke-linejoin="round" opacity="0.3" filter="url(#b05)"/>
<defs><linearGradient id="rb" gradientUnits="userSpaceOnUse" x1="35" y1="0" x2="657" y2="0">
<stop offset="0" stop-color="#1420ff"/>
<stop offset="0.12" stop-color="#3860f0"/>
<stop offset="0.185" stop-color="#62aeea"/>
<stop offset="0.228" stop-color="#5ccfc0"/>
<stop offset="0.272" stop-color="#30d070"/>
<stop offset="0.33" stop-color="#28e040"/>
<stop offset="0.41" stop-color="#10f020"/>
<stop offset="0.5" stop-color="#50ff10"/>
<stop offset="0.565" stop-color="#a0ff00"/>
<stop offset="0.668" stop-color="#ffff00"/>
<stop offset="0.80" stop-color="#ffa000"/>
<stop offset="0.90" stop-color="#ff5000"/>
<stop offset="1" stop-color="#ff2010"/>
</linearGradient></defs>
<defs><linearGradient id="vh" x1="0" y1="0" x2="0" y2="1"><stop offset="0" stop-color="#fff" stop-opacity="0"/><stop offset="0.5" stop-color="#fff" stop-opacity="0.13"/><stop offset="1" stop-color="#fff" stop-opacity="0"/></linearGradient></defs>
<path d="M35,86.2 L642.9,86.2 L642.9,79.6 L656.5,92.8 L642.9,106 L642.9,99.6 L35,99.6 Z" fill="url(#rb)"/>
<path d="M656.6,109.4 L49.3,109.4 L49.3,102.6 L35.5,116.2 L49.3,130 L49.3,122.9 L656.6,122.9 Z" fill="url(#rb)"/>
<defs><linearGradient id="hl" gradientUnits="userSpaceOnUse" x1="35" y1="0" x2="360" y2="0"><stop offset="0" stop-color="#c8ffff" stop-opacity="0.15"/><stop offset="0.35" stop-color="#c8ffff" stop-opacity="0.6"/><stop offset="1" stop-color="#c8ffff" stop-opacity="0"/></linearGradient></defs>
<rect x="35" y="86.2" width="325" height="1.3" fill="url(#hl)"/>
<rect x="49.3" y="121.6" width="311" height="1.3" fill="url(#hl)"/>
<rect x="35" y="86.2" width="608" height="13.4" fill="url(#vh)"/>
<rect x="49.3" y="109.4" width="607.3" height="13.5" fill="url(#vh)"/>
<text transform="translate(354.2,97.4) scale(1.05,1)" text-anchor="middle" fill="#fff" font-size="12.15" font-family="Liberation Sans, sans-serif" font-weight="bold">Compression</text>
<text transform="translate(356.1,121.1) scale(1.05,1)" text-anchor="middle" fill="#fff" font-size="12.15" font-family="Liberation Sans, sans-serif" font-weight="bold">Decompression</text>
<text transform="translate(71,78) scale(1.045,1)" text-anchor="middle" fill="#fff" font-size="12.15" font-family="Liberation Sans, sans-serif" font-weight="bold">1atm</text>
<text transform="translate(147.8,78) scale(1.045,1)" text-anchor="middle" fill="#fff" font-size="12.15" font-family="Liberation Sans, sans-serif" font-weight="bold">0.99GPa</text>
<text transform="translate(227,78) scale(1.045,1)" text-anchor="middle" fill="#fff" font-size="12.15" font-family="Liberation Sans, sans-serif" font-weight="bold">2.03GPa</text>
<text transform="translate(306.3,78) scale(1.045,1)" text-anchor="middle" fill="#fff" font-size="12.15" font-family="Liberation Sans, sans-serif" font-weight="bold">4.02GPa</text>
<text transform="translate(384.1,78) scale(1.045,1)" text-anchor="middle" fill="#fff" font-size="12.15" font-family="Liberation Sans, sans-serif" font-weight="bold">7.08GPa</text>
<text transform="translate(462.7,78) scale(1.045,1)" text-anchor="middle" fill="#fff" font-size="12.15" font-family="Liberation Sans, sans-serif" font-weight="bold">9.21GPa</text>
<text transform="translate(541.1,78) scale(1.045,1)" text-anchor="middle" fill="#fff" font-size="12.15" font-family="Liberation Sans, sans-serif" font-weight="bold">10.21GPa</text>
<text transform="translate(619.4,78) scale(1.045,1)" text-anchor="middle" fill="#fff" font-size="12.15" font-family="Liberation Sans, sans-serif" font-weight="bold">11.12GPa</text>
<text transform="translate(70.8,142.8) scale(1.045,1)" text-anchor="middle" fill="#fff" font-size="12.15" font-family="Liberation Sans, sans-serif" font-weight="bold">1atm</text>
<text transform="translate(147.8,142.8) scale(1.045,1)" text-anchor="middle" fill="#fff" font-size="12.15" font-family="Liberation Sans, sans-serif" font-weight="bold">0.69GPa</text>
<text transform="translate(227,142.8) scale(1.045,1)" text-anchor="middle" fill="#fff" font-size="12.15" font-family="Liberation Sans, sans-serif" font-weight="bold">2.07GPa</text>
<text transform="translate(306.3,142.8) scale(1.045,1)" text-anchor="middle" fill="#fff" font-size="12.15" font-family="Liberation Sans, sans-serif" font-weight="bold">3.84GPa</text>
<text transform="translate(384.1,142.8) scale(1.045,1)" text-anchor="middle" fill="#fff" font-size="12.15" font-family="Liberation Sans, sans-serif" font-weight="bold">6.67GPa</text>
<text transform="translate(462.4,142.8) scale(1.045,1)" text-anchor="middle" fill="#fff" font-size="12.15" font-family="Liberation Sans, sans-serif" font-weight="bold">9.1GPa</text>
<text transform="translate(541.1,142.8) scale(1.045,1)" text-anchor="middle" fill="#fff" font-size="12.15" font-family="Liberation Sans, sans-serif" font-weight="bold">10.21GPa</text>
<text transform="translate(619.4,142.8) scale(1.045,1)" text-anchor="middle" fill="#fff" font-size="12.15" font-family="Liberation Sans, sans-serif" font-weight="bold">11.12GPa</text>
<text transform="translate(14.0,19.6) scale(1.05,1)" fill="#000" font-size="14.8" font-family="Liberation Sans, sans-serif" font-weight="bold">a)</text>
<rect x="30" y="208" width="299" height="209.3" fill="#fff" stroke="none"/>
<defs><clipPath id="clipb"><rect x="30" y="208" width="299" height="209.3"/></clipPath></defs>
<g clip-path="url(#clipb)" fill="none" stroke-width="1.65" stroke-linejoin="round"><path d="M27.8,414.5 29.5,414.5 31.3,414.5 33.1,414.5 34.8,414.4 36.6,414.4 38.4,414.3 40.1,414.1 41.9,413.9 43.6,413.5 45.4,413.0 47.2,412.3 48.9,411.3 50.7,410.1 52.5,408.6 54.2,406.7 56.0,404.5 57.8,401.9 59.5,398.8 61.3,395.4 63.1,391.5 64.8,387.3 66.6,382.6 68.4,377.5 70.1,372.1 71.9,366.4 73.7,360.4 75.4,354.1 77.2,347.6 78.9,341.0 80.7,334.3 82.5,327.5 84.2,320.7 86.0,313.9 87.8,307.2 89.5,300.5 91.3,294.1 93.1,287.8 94.8,281.7 96.6,275.9 98.4,270.3 100.1,265.1 101.9,260.1 103.7,255.5 105.4,251.2 107.2,247.2 108.9,243.7 110.7,240.4 112.5,237.6 114.2,235.0 116.0,232.9 117.8,231.1 119.5,229.6 121.3,228.5 123.1,227.7 124.8,227.2 126.6,227.0 128.4,227.1 130.1,227.5 131.9,228.2 133.7,229.1 135.4,230.3 137.2,231.7 139.0,233.4 140.7,235.2 142.5,237.3 144.2,239.6 146.0,242.1 147.8,244.7 149.5,247.5 151.3,250.4 153.1,253.5 154.8,256.7 156.6,259.9 158.4,263.3 160.1,266.7 161.9,270.2 163.7,273.8 165.4,277.4 167.2,281.0 169.0,284.7 170.7,288.3 172.5,292.0 174.3,295.6 176.0,299.3 177.8,302.9 179.6,306.5 181.3,310.0 183.1,313.6 184.8,317.0 186.6,320.4 188.4,323.8 190.1,327.1 191.9,330.3 193.7,333.5 195.4,336.6 197.2,339.6 199.0,342.6 200.7,345.5 202.5,348.3 204.3,351.0 206.0,353.6 207.8,356.2 209.6,358.7 211.3,361.1 213.1,363.5 214.8,365.7 216.6,367.9 218.4,370.0 220.1,372.0 221.9,374.0 223.7,375.9 225.4,377.7 227.2,379.4 229.0,381.1 230.7,382.7 232.5,384.3 234.3,385.7 236.0,387.2 237.8,388.5 239.6,389.8 241.3,391.1 243.1,392.3 244.9,393.4 246.6,394.5 248.4,395.5 250.1,396.5 251.9,397.5 253.7,398.3 255.4,399.2 257.2,400.0 259.0,400.8 260.7,401.5 262.5,402.2 264.3,402.9 266.0,403.5 267.8,404.1 269.6,404.7 271.3,405.3 273.1,405.8 274.9,406.3 276.6,406.7 278.4,407.2 280.2,407.6 281.9,408.0 283.7,408.3 285.4,408.7 287.2,409.0 289.0,409.3 290.7,409.6 292.5,409.9 294.3,410.2 296.0,410.4 297.8,410.7 299.6,410.9 301.3,411.1 303.1,411.3 304.9,411.5 306.6,411.7 308.4,411.8 310.2,412.0 311.9,412.2 313.7,412.3 315.5,412.4 317.2,412.6 319.0,412.7 320.8,412.8 322.5,412.9 324.3,413.0 326.0,413.1 327.8,413.2 329.6,413.2 331.3,413.3" stroke="#000000"/><path d="M27.8,415.1 29.5,415.1 31.3,415.1 33.1,415.1 34.8,415.1 36.6,415.1 38.4,415.1 40.1,415.1 41.9,415.0 43.6,415.0 45.4,414.9 47.2,414.7 48.9,414.4 50.7,414.1 52.5,413.6 54.2,413.0 56.0,412.2 57.8,411.2 59.5,409.9 61.3,408.4 63.1,406.6 64.8,404.6 66.6,402.2 68.4,399.6 70.1,396.7 71.9,393.5 73.7,390.0 75.4,386.2 77.2,382.3 78.9,378.1 80.7,373.7 82.5,369.2 84.2,364.6 86.0,359.9 87.8,355.1 89.5,350.3 91.3,345.5 93.1,340.7 94.8,336.0 96.6,331.4 98.4,326.9 100.1,322.6 101.9,318.4 103.7,314.4 105.4,310.5 107.2,306.9 108.9,303.6 110.7,300.4 112.5,297.5 114.2,294.8 116.0,292.4 117.8,290.2 119.5,288.3 121.3,286.7 123.1,285.2 124.8,284.1 126.6,283.1 128.4,282.4 130.1,281.9 131.9,281.7 133.7,281.6 135.4,281.7 137.2,282.1 139.0,282.6 140.7,283.4 142.5,284.3 144.2,285.3 146.0,286.6 147.8,288.0 149.5,289.5 151.3,291.2 153.1,293.0 154.8,294.9 156.6,296.9 158.4,299.0 160.1,301.3 161.9,303.5 163.7,305.9 165.4,308.3 167.2,310.8 169.0,313.3 170.7,315.8 172.5,318.4 174.3,321.0 176.0,323.6 177.8,326.2 179.6,328.8 181.3,331.4 183.1,334.0 184.8,336.5 186.6,339.1 188.4,341.6 190.1,344.1 191.9,346.5 193.7,349.0 195.4,351.3 197.2,353.7 199.0,356.0 200.7,358.2 202.5,360.4 204.3,362.5 206.0,364.6 207.8,366.7 209.6,368.6 211.3,370.6 213.1,372.4 214.8,374.2 216.6,376.0 218.4,377.7 220.1,379.3 221.9,380.9 223.7,382.5 225.4,383.9 227.2,385.4 229.0,386.7 230.7,388.1 232.5,389.3 234.3,390.6 236.0,391.7 237.8,392.9 239.6,393.9 241.3,395.0 243.1,396.0 244.9,396.9 246.6,397.8 248.4,398.7 250.1,399.6 251.9,400.3 253.7,401.1 255.4,401.8 257.2,402.5 259.0,403.2 260.7,403.8 262.5,404.4 264.3,405.0 266.0,405.5 267.8,406.0 269.6,406.5 271.3,407.0 273.1,407.4 274.9,407.9 276.6,408.3 278.4,408.6 280.2,409.0 281.9,409.3 283.7,409.7 285.4,410.0 287.2,410.3 289.0,410.5 290.7,410.8 292.5,411.0 294.3,411.3 296.0,411.5 297.8,411.7 299.6,411.9 301.3,412.1 303.1,412.3 304.9,412.4 306.6,412.6 308.4,412.7 310.2,412.9 311.9,413.0 313.7,413.1 315.5,413.3 317.2,413.4 319.0,413.5 320.8,413.6 322.5,413.7 324.3,413.7 326.0,413.8 327.8,413.9 329.6,414.0 331.3,414.0" stroke="#ff0000"/><path d="M27.8,414.0 29.5,414.0 31.3,414.0 33.1,414.0 34.8,414.0 36.6,414.0 38.4,414.0 40.1,414.0 41.9,414.0 43.6,414.0 45.4,414.0 47.2,414.0 48.9,414.0 50.7,413.9 52.5,413.8 54.2,413.7 56.0,413.5 57.8,413.3 59.5,412.9 61.3,412.4 63.1,411.8 64.8,410.9 66.6,409.9 68.4,408.7 70.1,407.2 71.9,405.5 73.7,403.5 75.4,401.3 77.2,398.8 78.9,396.0 80.7,393.1 82.5,389.9 84.2,386.5 86.0,382.9 87.8,379.2 89.5,375.4 91.3,371.4 93.1,367.4 94.8,363.4 96.6,359.4 98.4,355.3 100.1,351.4 101.9,347.5 103.7,343.6 105.4,339.9 107.2,336.4 108.9,333.0 110.7,329.7 112.5,326.7 114.2,323.8 116.0,321.2 117.8,318.7 119.5,316.5 121.3,314.5 123.1,312.7 124.8,311.1 126.6,309.8 128.4,308.7 130.1,307.7 131.9,307.0 133.7,306.5 135.4,306.2 137.2,306.0 139.0,306.0 140.7,306.2 142.5,306.6 144.2,307.1 146.0,307.8 147.8,308.6 149.5,309.6 151.3,310.7 153.1,311.9 154.8,313.2 156.6,314.6 158.4,316.2 160.1,317.8 161.9,319.5 163.7,321.3 165.4,323.1 167.2,325.0 169.0,327.0 170.7,329.0 172.5,331.0 174.3,333.1 176.0,335.2 177.8,337.3 179.6,339.4 181.3,341.5 183.1,343.7 184.8,345.8 186.6,347.9 188.4,350.0 190.1,352.1 191.9,354.1 193.7,356.2 195.4,358.2 197.2,360.2 199.0,362.1 200.7,364.0 202.5,365.9 204.3,367.8 206.0,369.5 207.8,371.3 209.6,373.0 211.3,374.7 213.1,376.3 214.8,377.9 216.6,379.4 218.4,380.9 220.1,382.3 221.9,383.7 223.7,385.0 225.4,386.3 227.2,387.6 229.0,388.8 230.7,390.0 232.5,391.1 234.3,392.2 236.0,393.2 237.8,394.2 239.6,395.2 241.3,396.1 243.1,397.0 244.9,397.8 246.6,398.6 248.4,399.4 250.1,400.1 251.9,400.8 253.7,401.5 255.4,402.2 257.2,402.8 259.0,403.4 260.7,403.9 262.5,404.5 264.3,405.0 266.0,405.5 267.8,405.9 269.6,406.4 271.3,406.8 273.1,407.2 274.9,407.6 276.6,407.9 278.4,408.2 280.2,408.6 281.9,408.9 283.7,409.2 285.4,409.4 287.2,409.7 289.0,409.9 290.7,410.2 292.5,410.4 294.3,410.6 296.0,410.8 297.8,411.0 299.6,411.2 301.3,411.3 303.1,411.5 304.9,411.6 306.6,411.8 308.4,411.9 310.2,412.0 311.9,412.1 313.7,412.3 315.5,412.4 317.2,412.5 319.0,412.6 320.8,412.6 322.5,412.7 324.3,412.8 326.0,412.9 327.8,412.9 329.6,413.0 331.3,413.1" stroke="#0000ff"/><path d="M27.8,414.5 29.5,414.5 31.3,414.5 33.1,414.5 34.8,414.5 36.6,414.5 38.4,414.5 40.1,414.5 41.9,414.5 43.6,414.5 45.4,414.5 47.2,414.5 48.9,414.5 50.7,414.5 52.5,414.5 54.2,414.5 56.0,414.5 57.8,414.5 59.5,414.4 61.3,414.4 63.1,414.3 64.8,414.1 66.6,413.9 68.4,413.6 70.1,413.3 71.9,412.8 73.7,412.2 75.4,411.4 77.2,410.5 78.9,409.4 80.7,408.2 82.5,406.8 84.2,405.2 86.0,403.4 87.8,401.5 89.5,399.4 91.3,397.2 93.1,394.8 94.8,392.4 96.6,389.9 98.4,387.2 100.1,384.6 101.9,381.9 103.7,379.2 105.4,376.5 107.2,373.8 108.9,371.2 110.7,368.6 112.5,366.1 114.2,363.7 116.0,361.4 117.8,359.2 119.5,357.1 121.3,355.2 123.1,353.4 124.8,351.7 126.6,350.2 128.4,348.8 130.1,347.6 131.9,346.5 133.7,345.6 135.4,344.8 137.2,344.1 139.0,343.6 140.7,343.3 142.5,343.0 144.2,342.9 146.0,342.9 147.8,343.0 149.5,343.2 151.3,343.5 153.1,343.9 154.8,344.4 156.6,344.9 158.4,345.6 160.1,346.3 161.9,347.0 163.7,347.9 165.4,348.8 167.2,349.7 169.0,350.7 170.7,351.8 172.5,352.9 174.3,354.0 176.0,355.2 177.8,356.4 179.6,357.6 181.3,358.9 183.1,360.1 184.8,361.4 186.6,362.7 188.4,364.0 190.1,365.4 191.9,366.7 193.7,368.0 195.4,369.3 197.2,370.6 199.0,371.9 200.7,373.2 202.5,374.5 204.3,375.8 206.0,377.0 207.8,378.3 209.6,379.5 211.3,380.7 213.1,381.8 214.8,383.0 216.6,384.1 218.4,385.2 220.1,386.3 221.9,387.4 223.7,388.4 225.4,389.4 227.2,390.4 229.0,391.3 230.7,392.3 232.5,393.2 234.3,394.0 236.0,394.9 237.8,395.7 239.6,396.5 241.3,397.3 243.1,398.0 244.9,398.7 246.6,399.4 248.4,400.1 250.1,400.7 251.9,401.3 253.7,401.9 255.4,402.5 257.2,403.1 259.0,403.6 260.7,404.1 262.5,404.6 264.3,405.1 266.0,405.5 267.8,405.9 269.6,406.4 271.3,406.7 273.1,407.1 274.9,407.5 276.6,407.8 278.4,408.2 280.2,408.5 281.9,408.8 283.7,409.1 285.4,409.3 287.2,409.6 289.0,409.9 290.7,410.1 292.5,410.3 294.3,410.5 296.0,410.8 297.8,410.9 299.6,411.1 301.3,411.3 303.1,411.5 304.9,411.6 306.6,411.8 308.4,411.9 310.2,412.1 311.9,412.2 313.7,412.3 315.5,412.5 317.2,412.6 319.0,412.7 320.8,412.8 322.5,412.9 324.3,413.0 326.0,413.0 327.8,413.1 329.6,413.2 331.3,413.3" stroke="#007000"/><path d="M27.8,414.5 29.5,414.5 31.3,414.5 33.1,414.5 34.8,414.5 36.6,414.5 38.4,414.5 40.1,414.5 41.9,414.5 43.6,414.5 45.4,414.5 47.2,414.5 48.9,414.5 50.7,414.5 52.5,414.5 54.2,414.5 56.0,414.5 57.8,414.5 59.5,414.5 61.3,414.5 63.1,414.5 64.8,414.5 66.6,414.5 68.4,414.5 70.1,414.5 71.9,414.5 73.7,414.4 75.4,414.3 77.2,414.2 78.9,414.1 80.7,413.9 82.5,413.6 84.2,413.2 86.0,412.8 87.8,412.2 89.5,411.6 91.3,410.8 93.1,409.9 94.8,408.9 96.6,407.7 98.4,406.5 100.1,405.1 101.9,403.6 103.7,402.1 105.4,400.4 107.2,398.7 108.9,397.0 110.7,395.2 112.5,393.4 114.2,391.6 116.0,389.8 117.8,388.0 119.5,386.2 121.3,384.5 123.1,382.8 124.8,381.2 126.6,379.7 128.4,378.3 130.1,376.9 131.9,375.7 133.7,374.5 135.4,373.4 137.2,372.5 139.0,371.6 140.7,370.9 142.5,370.2 144.2,369.7 146.0,369.2 147.8,368.9 149.5,368.6 151.3,368.5 153.1,368.4 154.8,368.4 156.6,368.5 158.4,368.6 160.1,368.8 161.9,369.1 163.7,369.4 165.4,369.7 167.2,370.2 169.0,370.6 170.7,371.1 172.5,371.7 174.3,372.3 176.0,372.9 177.8,373.6 179.6,374.2 181.3,375.0 183.1,375.7 184.8,376.5 186.6,377.3 188.4,378.1 190.1,378.9 191.9,379.7 193.7,380.6 195.4,381.4 197.2,382.3 199.0,383.1 200.7,384.0 202.5,384.8 204.3,385.7 206.0,386.5 207.8,387.4 209.6,388.2 211.3,389.0 213.1,389.9 214.8,390.7 216.6,391.5 218.4,392.3 220.1,393.0 221.9,393.8 223.7,394.5 225.4,395.3 227.2,396.0 229.0,396.7 230.7,397.3 232.5,398.0 234.3,398.7 236.0,399.3 237.8,399.9 239.6,400.5 241.3,401.1 243.1,401.6 244.9,402.2 246.6,402.7 248.4,403.2 250.1,403.7 251.9,404.1 253.7,404.6 255.4,405.0 257.2,405.5 259.0,405.9 260.7,406.3 262.5,406.6 264.3,407.0 266.0,407.4 267.8,407.7 269.6,408.0 271.3,408.3 273.1,408.6 274.9,408.9 276.6,409.2 278.4,409.4 280.2,409.7 281.9,409.9 283.7,410.2 285.4,410.4 287.2,410.6 289.0,410.8 290.7,411.0 292.5,411.1 294.3,411.3 296.0,411.5 297.8,411.6 299.6,411.8 301.3,411.9 303.1,412.1 304.9,412.2 306.6,412.3 308.4,412.4 310.2,412.5 311.9,412.6 313.7,412.7 315.5,412.8 317.2,412.9 319.0,413.0 320.8,413.1 322.5,413.2 324.3,413.2 326.0,413.3 327.8,413.4 329.6,413.4 331.3,413.5" stroke="#8000ff"/><path d="M27.8,414.5 29.5,414.5 31.3,414.5 33.1,414.5 34.8,414.5 36.6,414.5 38.4,414.5 40.1,414.5 41.9,414.5 43.6,414.5 45.4,414.5 47.2,414.5 48.9,414.5 50.7,414.5 52.5,414.5 54.2,414.5 56.0,414.5 57.8,414.5 59.5,414.5 61.3,414.5 63.1,414.5 64.8,414.5 66.6,414.5 68.4,414.5 70.1,414.5 71.9,414.5 73.7,414.5 75.4,414.5 77.2,414.5 78.9,414.5 80.7,414.5 82.5,414.5 84.2,414.5 86.0,414.5 87.8,414.5 89.5,414.4 91.3,414.4 93.1,414.3 94.8,414.2 96.6,414.1 98.4,413.9 100.1,413.7 101.9,413.5 103.7,413.1 105.4,412.8 107.2,412.4 108.9,411.9 110.7,411.3 112.5,410.7 114.2,410.1 116.0,409.3 117.8,408.6 119.5,407.8 121.3,406.9 123.1,406.0 124.8,405.1 126.6,404.2 128.4,403.2 130.1,402.3 131.9,401.3 133.7,400.4 135.4,399.4 137.2,398.5 139.0,397.6 140.7,396.8 142.5,395.9 144.2,395.1 146.0,394.4 147.8,393.7 149.5,393.0 151.3,392.4 153.1,391.8 154.8,391.3 156.6,390.9 158.4,390.5 160.1,390.1 161.9,389.8 163.7,389.6 165.4,389.4 167.2,389.2 169.0,389.1 170.7,389.0 172.5,389.0 174.3,389.0 176.0,389.1 177.8,389.1 179.6,389.3 181.3,389.4 183.1,389.6 184.8,389.8 186.6,390.0 188.4,390.2 190.1,390.5 191.9,390.8 193.7,391.1 195.4,391.4 197.2,391.8 199.0,392.2 200.7,392.5 202.5,392.9 204.3,393.3 206.0,393.8 207.8,394.2 209.6,394.6 211.3,395.0 213.1,395.5 214.8,395.9 216.6,396.4 218.4,396.9 220.1,397.3 221.9,397.8 223.7,398.2 225.4,398.7 227.2,399.1 229.0,399.6 230.7,400.0 232.5,400.5 234.3,400.9 236.0,401.3 237.8,401.8 239.6,402.2 241.3,402.6 243.1,403.0 244.9,403.4 246.6,403.8 248.4,404.2 250.1,404.5 251.9,404.9 253.7,405.3 255.4,405.6 257.2,405.9 259.0,406.3 260.7,406.6 262.5,406.9 264.3,407.2 266.0,407.5 267.8,407.8 269.6,408.1 271.3,408.3 273.1,408.6 274.9,408.8 276.6,409.1 278.4,409.3 280.2,409.5 281.9,409.7 283.7,410.0 285.4,410.2 287.2,410.4 289.0,410.5 290.7,410.7 292.5,410.9 294.3,411.1 296.0,411.2 297.8,411.4 299.6,411.5 301.3,411.7 303.1,411.8 304.9,411.9 306.6,412.0 308.4,412.2 310.2,412.3 311.9,412.4 313.7,412.5 315.5,412.6 317.2,412.7 319.0,412.8 320.8,412.9 322.5,412.9 324.3,413.0 326.0,413.1 327.8,413.2 329.6,413.2 331.3,413.3" stroke="#600010"/><path d="M27.8,414.5 29.5,414.5 31.3,414.5 33.1,414.5 34.8,414.5 36.6,414.5 38.4,414.5 40.1,414.5 41.9,414.5 43.6,414.5 45.4,414.5 47.2,414.5 48.9,414.5 50.7,414.5 52.5,414.5 54.2,414.5 56.0,414.5 57.8,414.5 59.5,414.5 61.3,414.5 63.1,414.5 64.8,414.5 66.6,414.5 68.4,414.5 70.1,414.5 71.9,414.5 73.7,414.5 75.4,414.5 77.2,414.5 78.9,414.5 80.7,414.5 82.5,414.5 84.2,414.5 86.0,414.5 87.8,414.5 89.5,414.5 91.3,414.4 93.1,414.4 94.8,414.3 96.6,414.3 98.4,414.2 100.1,414.1 101.9,413.9 103.7,413.7 105.4,413.5 107.2,413.3 108.9,413.0 110.7,412.7 112.5,412.4 114.2,412.0 116.0,411.5 117.8,411.1 119.5,410.6 121.3,410.1 123.1,409.5 124.8,408.9 126.6,408.4 128.4,407.8 130.1,407.1 131.9,406.5 133.7,405.9 135.4,405.2 137.2,404.6 139.0,404.0 140.7,403.4 142.5,402.8 144.2,402.2 146.0,401.6 147.8,401.1 149.5,400.5 151.3,400.0 153.1,399.6 154.8,399.1 156.6,398.7 158.4,398.3 160.1,398.0 161.9,397.7 163.7,397.4 165.4,397.1 167.2,396.9 169.0,396.7 170.7,396.6 172.5,396.4 174.3,396.3 176.0,396.3 177.8,396.2 179.6,396.2 181.3,396.2 183.1,396.2 184.8,396.3 186.6,396.4 188.4,396.4 190.1,396.6 191.9,396.7 193.7,396.8 195.4,397.0 197.2,397.2 199.0,397.4 200.7,397.6 202.5,397.8 204.3,398.0 206.0,398.3 207.8,398.5 209.6,398.8 211.3,399.0 213.1,399.3 214.8,399.6 216.6,399.9 218.4,400.2 220.1,400.5 221.9,400.8 223.7,401.1 225.4,401.4 227.2,401.7 229.0,402.0 230.7,402.4 232.5,402.7 234.3,403.0 236.0,403.3 237.8,403.6 239.6,403.9 241.3,404.2 243.1,404.5 244.9,404.8 246.6,405.1 248.4,405.4 250.1,405.7 251.9,406.0 253.7,406.3 255.4,406.5 257.2,406.8 259.0,407.1 260.7,407.3 262.5,407.6 264.3,407.8 266.0,408.1 267.8,408.3 269.6,408.5 271.3,408.7 273.1,409.0 274.9,409.2 276.6,409.4 278.4,409.6 280.2,409.8 281.9,409.9 283.7,410.1 285.4,410.3 287.2,410.5 289.0,410.6 290.7,410.8 292.5,410.9 294.3,411.1 296.0,411.2 297.8,411.4 299.6,411.5 301.3,411.6 303.1,411.8 304.9,411.9 306.6,412.0 308.4,412.1 310.2,412.2 311.9,412.3 313.7,412.4 315.5,412.5 317.2,412.6 319.0,412.7 320.8,412.8 322.5,412.9 324.3,412.9 326.0,413.0 327.8,413.1 329.6,413.1 331.3,413.2" stroke="#808000"/><path d="M27.8,414.5 29.5,414.5 31.3,414.5 33.1,414.5 34.8,414.5 36.6,414.5 38.4,414.5 40.1,414.5 41.9,414.5 43.6,414.5 45.4,414.5 47.2,414.5 48.9,414.5 50.7,414.5 52.5,414.5 54.2,414.5 56.0,414.5 57.8,414.5 59.5,414.5 61.3,414.5 63.1,414.5 64.8,414.5 66.6,414.5 68.4,414.5 70.1,414.5 71.9,414.5 73.7,414.5 75.4,414.5 77.2,414.5 78.9,414.5 80.7,414.5 82.5,414.5 84.2,414.5 86.0,414.5 87.8,414.5 89.5,414.5 91.3,414.5 93.1,414.5 94.8,414.5 96.6,414.5 98.4,414.4 100.1,414.4 101.9,414.4 103.7,414.3 105.4,414.2 107.2,414.2 108.9,414.1 110.7,414.0 112.5,413.8 114.2,413.7 116.0,413.5 117.8,413.3 119.5,413.1 121.3,412.9 123.1,412.6 124.8,412.3 126.6,412.0 128.4,411.7 130.1,411.4 131.9,411.1 133.7,410.7 135.4,410.4 137.2,410.0 139.0,409.7 140.7,409.3 142.5,408.9 144.2,408.5 146.0,408.2 147.8,407.8 149.5,407.5 151.3,407.1 153.1,406.8 154.8,406.4 156.6,406.1 158.4,405.8 160.1,405.5 161.9,405.2 163.7,405.0 165.4,404.7 167.2,404.5 169.0,404.3 170.7,404.1 172.5,403.9 174.3,403.8 176.0,403.6 177.8,403.5 179.6,403.4 181.3,403.3 183.1,403.2 184.8,403.2 186.6,403.1 188.4,403.1 190.1,403.1 191.9,403.1 193.7,403.1 195.4,403.1 197.2,403.2 199.0,403.2 200.7,403.3 202.5,403.4 204.3,403.4 206.0,403.5 207.8,403.6 209.6,403.7 211.3,403.9 213.1,404.0 214.8,404.1 216.6,404.3 218.4,404.4 220.1,404.6 221.9,404.7 223.7,404.9 225.4,405.0 227.2,405.2 229.0,405.4 230.7,405.6 232.5,405.8 234.3,405.9 236.0,406.1 237.8,406.3 239.6,406.5 241.3,406.7 243.1,406.9 244.9,407.0 246.6,407.2 248.4,407.4 250.1,407.6 251.9,407.8 253.7,408.0 255.4,408.2 257.2,408.3 259.0,408.5 260.7,408.7 262.5,408.9 264.3,409.0 266.0,409.2 267.8,409.4 269.6,409.5 271.3,409.7 273.1,409.8 274.9,410.0 276.6,410.2 278.4,410.3 280.2,410.4 281.9,410.6 283.7,410.7 285.4,410.9 287.2,411.0 289.0,411.1 290.7,411.2 292.5,411.4 294.3,411.5 296.0,411.6 297.8,411.7 299.6,411.8 301.3,411.9 303.1,412.0 304.9,412.1 306.6,412.2 308.4,412.3 310.2,412.4 311.9,412.5 313.7,412.6 315.5,412.6 317.2,412.7 319.0,412.8 320.8,412.9 322.5,412.9 324.3,413.0 326.0,413.1 327.8,413.1 329.6,413.2 331.3,413.2" stroke="#0a5a9a"/><path d="M27.8,414.5 29.5,414.5 31.3,414.5 33.1,414.5 34.8,414.5 36.6,414.5 38.4,414.5 40.1,414.5 41.9,414.5 43.6,414.5 45.4,414.5 47.2,414.5 48.9,414.5 50.7,414.5 52.5,414.5 54.2,414.5 56.0,414.5 57.8,414.5 59.5,414.5 61.3,414.5 63.1,414.5 64.8,414.5 66.6,414.5 68.4,414.5 70.1,414.5 71.9,414.5 73.7,414.5 75.4,414.5 77.2,414.5 78.9,414.5 80.7,414.5 82.5,414.5 84.2,414.5 86.0,414.5 87.8,414.5 89.5,414.5 91.3,414.5 93.1,414.5 94.8,414.5 96.6,414.5 98.4,414.5 100.1,414.5 101.9,414.5 103.7,414.5 105.4,414.5 107.2,414.5 108.9,414.5 110.7,414.5 112.5,414.4 114.2,414.4 116.0,414.4 117.8,414.3 119.5,414.3 121.3,414.3 123.1,414.2 124.8,414.1 126.6,414.1 128.4,414.0 130.1,413.9 131.9,413.8 133.7,413.7 135.4,413.5 137.2,413.4 139.0,413.3 140.7,413.1 142.5,413.0 144.2,412.8 146.0,412.7 147.8,412.5 149.5,412.3 151.3,412.2 153.1,412.0 154.8,411.8 156.6,411.6 158.4,411.4 160.1,411.3 161.9,411.1 163.7,410.9 165.4,410.7 167.2,410.6 169.0,410.4 170.7,410.2 172.5,410.1 174.3,409.9 176.0,409.8 177.8,409.7 179.6,409.5 181.3,409.4 183.1,409.3 184.8,409.2 186.6,409.1 188.4,409.0 190.1,408.9 191.9,408.8 193.7,408.8 195.4,408.7 197.2,408.7 199.0,408.6 200.7,408.6 202.5,408.6 204.3,408.5 206.0,408.5 207.8,408.5 209.6,408.5 211.3,408.5 213.1,408.5 214.8,408.5 216.6,408.5 218.4,408.6 220.1,408.6 221.9,408.6 223.7,408.7 225.4,408.7 227.2,408.8 229.0,408.8 230.7,408.9 232.5,409.0 234.3,409.0 236.0,409.1 237.8,409.2 239.6,409.2 241.3,409.3 243.1,409.4 244.9,409.5 246.6,409.6 248.4,409.7 250.1,409.7 251.9,409.8 253.7,409.9 255.4,410.0 257.2,410.1 259.0,410.2 260.7,410.3 262.5,410.4 264.3,410.5 266.0,410.6 267.8,410.7 269.6,410.8 271.3,410.9 273.1,411.0 274.9,411.0 276.6,411.1 278.4,411.2 280.2,411.3 281.9,411.4 283.7,411.5 285.4,411.6 287.2,411.7 289.0,411.8 290.7,411.8 292.5,411.9 294.3,412.0 296.0,412.1 297.8,412.2 299.6,412.2 301.3,412.3 303.1,412.4 304.9,412.4 306.6,412.5 308.4,412.6 310.2,412.7 311.9,412.7 313.7,412.8 315.5,412.8 317.2,412.9 319.0,413.0 320.8,413.0 322.5,413.1 324.3,413.1 326.0,413.2 327.8,413.2 329.6,413.3 331.3,413.3" stroke="#a04000"/><path d="M27.8,414.5 29.5,414.5 31.3,414.5 33.1,414.5 34.8,414.5 36.6,414.5 38.4,414.5 40.1,414.5 41.9,414.5 43.6,414.5 45.4,414.5 47.2,414.5 48.9,414.5 50.7,414.5 52.5,414.5 54.2,414.5 56.0,414.5 57.8,414.5 59.5,414.5 61.3,414.5 63.1,414.5 64.8,414.5 66.6,414.5 68.4,414.5 70.1,414.5 71.9,414.5 73.7,414.5 75.4,414.5 77.2,414.5 78.9,414.5 80.7,414.5 82.5,414.5 84.2,414.5 86.0,414.5 87.8,414.5 89.5,414.5 91.3,414.5 93.1,414.5 94.8,414.5 96.6,414.5 98.4,414.5 100.1,414.5 101.9,414.5 103.7,414.5 105.4,414.5 107.2,414.5 108.9,414.5 110.7,414.5 112.5,414.5 114.2,414.5 116.0,414.5 117.8,414.5 119.5,414.5 121.3,414.4 123.1,414.4 124.8,414.4 126.6,414.4 128.4,414.4 130.1,414.3 131.9,414.3 133.7,414.3 135.4,414.2 137.2,414.2 139.0,414.1 140.7,414.1 142.5,414.0 144.2,413.9 146.0,413.9 147.8,413.8 149.5,413.7 151.3,413.6 153.1,413.5 154.8,413.4 156.6,413.4 158.4,413.3 160.1,413.2 161.9,413.1 163.7,413.0 165.4,412.9 167.2,412.8 169.0,412.7 170.7,412.6 172.5,412.5 174.3,412.4 176.0,412.3 177.8,412.2 179.6,412.1 181.3,412.0 183.1,412.0 184.8,411.9 186.6,411.8 188.4,411.7 190.1,411.7 191.9,411.6 193.7,411.5 195.4,411.5 197.2,411.4 199.0,411.4 200.7,411.3 202.5,411.3 204.3,411.3 206.0,411.2 207.8,411.2 209.6,411.2 211.3,411.1 213.1,411.1 214.8,411.1 216.6,411.1 218.4,411.1 220.1,411.1 221.9,411.1 223.7,411.1 225.4,411.1 227.2,411.1 229.0,411.1 230.7,411.2 232.5,411.2 234.3,411.2 236.0,411.2 237.8,411.2 239.6,411.3 241.3,411.3 243.1,411.3 244.9,411.4 246.6,411.4 248.4,411.4 250.1,411.5 251.9,411.5 253.7,411.6 255.4,411.6 257.2,411.7 259.0,411.7 260.7,411.7 262.5,411.8 264.3,411.8 266.0,411.9 267.8,411.9 269.6,412.0 271.3,412.0 273.1,412.1 274.9,412.1 276.6,412.2 278.4,412.3 280.2,412.3 281.9,412.4 283.7,412.4 285.4,412.5 287.2,412.5 289.0,412.6 290.7,412.6 292.5,412.7 294.3,412.7 296.0,412.8 297.8,412.8 299.6,412.9 301.3,412.9 303.1,412.9 304.9,413.0 306.6,413.0 308.4,413.1 310.2,413.1 311.9,413.2 313.7,413.2 315.5,413.2 317.2,413.3 319.0,413.3 320.8,413.4 322.5,413.4 324.3,413.4 326.0,413.5 327.8,413.5 329.6,413.5 331.3,413.6" stroke="#00e000"/><path d="M27.8,415.2 29.5,415.2 31.3,415.2 33.1,415.2 34.8,415.2 36.6,415.2 38.4,415.2 40.1,415.2 41.9,415.2 43.6,415.2 45.4,415.2 47.2,415.2 48.9,415.2 50.7,415.2 52.5,415.2 54.2,415.2 56.0,415.2 57.8,415.2 59.5,415.2 61.3,415.2 63.1,415.2 64.8,415.2 66.6,415.2 68.4,415.2 70.1,415.2 71.9,415.2 73.7,415.2 75.4,415.2 77.2,415.2 78.9,415.2 80.7,415.2 82.5,415.2 84.2,415.2 86.0,415.2 87.8,415.2 89.5,415.2 91.3,415.2 93.1,415.2 94.8,415.2 96.6,415.2 98.4,415.2 100.1,415.2 101.9,415.2 103.7,415.2 105.4,415.2 107.2,415.2 108.9,415.2 110.7,415.2 112.5,415.2 114.2,415.2 116.0,415.2 117.8,415.2 119.5,415.2 121.3,415.2 123.1,415.2 124.8,415.2 126.6,415.2 128.4,415.2 130.1,415.2 131.9,415.2 133.7,415.2 135.4,415.2 137.2,415.1 139.0,415.1 140.7,415.1 142.5,415.1 144.2,415.1 146.0,415.0 147.8,415.0 149.5,415.0 151.3,414.9 153.1,414.9 154.8,414.9 156.6,414.8 158.4,414.8 160.1,414.7 161.9,414.7 163.7,414.6 165.4,414.6 167.2,414.5 169.0,414.4 170.7,414.4 172.5,414.3 174.3,414.3 176.0,414.2 177.8,414.1 179.6,414.1 181.3,414.0 183.1,413.9 184.8,413.9 186.6,413.8 188.4,413.8 190.1,413.7 191.9,413.6 193.7,413.6 195.4,413.5 197.2,413.5 199.0,413.4 200.7,413.4 202.5,413.4 204.3,413.3 206.0,413.3 207.8,413.2 209.6,413.2 211.3,413.2 213.1,413.1 214.8,413.1 216.6,413.1 218.4,413.1 220.1,413.1 221.9,413.0 223.7,413.0 225.4,413.0 227.2,413.0 229.0,413.0 230.7,413.0 232.5,413.0 234.3,413.0 236.0,413.0 237.8,413.0 239.6,413.0 241.3,413.0 243.1,413.0 244.9,413.0 246.6,413.1 248.4,413.1 250.1,413.1 251.9,413.1 253.7,413.1 255.4,413.2 257.2,413.2 259.0,413.2 260.7,413.2 262.5,413.3 264.3,413.3 266.0,413.3 267.8,413.3 269.6,413.4 271.3,413.4 273.1,413.4 274.9,413.5 276.6,413.5 278.4,413.5 280.2,413.6 281.9,413.6 283.7,413.6 285.4,413.7 287.2,413.7 289.0,413.7 290.7,413.8 292.5,413.8 294.3,413.8 296.0,413.9 297.8,413.9 299.6,413.9 301.3,414.0 303.1,414.0 304.9,414.0 306.6,414.0 308.4,414.1 310.2,414.1 311.9,414.1 313.7,414.2 315.5,414.2 317.2,414.2 319.0,414.3 320.8,414.3 322.5,414.3 324.3,414.3 326.0,414.4 327.8,414.4 329.6,414.4 331.3,414.4" stroke="#e0007f"/><path d="M126.8,227.0 L133.3,281.0 L137.9,306.5 L146.0,342.9 L155.0,368.4 L173.5,389.0 L180.8,396.2 L193.0,403.0 L211.0,408.2 L222.0,411.0 L234.0,413.0" stroke="#1414ff" stroke-width="1.5" stroke-dasharray="5 3"/></g>
<path transform="translate(126.8,227.0) rotate(83.1)" d="M4,0 L-3,-2.8 L-1,0 L-3,2.8 Z" fill="#1414ff"/>
<path transform="translate(133.3,281.0) rotate(83.1)" d="M4,0 L-3,-2.8 L-1,0 L-3,2.8 Z" fill="#1414ff"/>
<path transform="translate(137.9,306.5) rotate(79.8)" d="M4,0 L-3,-2.8 L-1,0 L-3,2.8 Z" fill="#1414ff"/>
<path transform="translate(146.0,342.9) rotate(77.5)" d="M4,0 L-3,-2.8 L-1,0 L-3,2.8 Z" fill="#1414ff"/>
<path transform="translate(155.0,368.4) rotate(70.6)" d="M4,0 L-3,-2.8 L-1,0 L-3,2.8 Z" fill="#1414ff"/>
<path transform="translate(173.5,389.0) rotate(48.1)" d="M4,0 L-3,-2.8 L-1,0 L-3,2.8 Z" fill="#1414ff"/>
<path transform="translate(180.8,396.2) rotate(44.6)" d="M4,0 L-3,-2.8 L-1,0 L-3,2.8 Z" fill="#1414ff"/>
<path transform="translate(193.0,403.0) rotate(29.1)" d="M4,0 L-3,-2.8 L-1,0 L-3,2.8 Z" fill="#1414ff"/>
<path transform="translate(211.0,408.2) rotate(16.1)" d="M4,0 L-3,-2.8 L-1,0 L-3,2.8 Z" fill="#1414ff"/>
<path transform="translate(222.0,411.0) rotate(14.3)" d="M4,0 L-3,-2.8 L-1,0 L-3,2.8 Z" fill="#1414ff"/>
<path transform="translate(234.0,413.0) rotate(9.5)" d="M4,0 L-3,-2.8 L-1,0 L-3,2.8 Z" fill="#1414ff"/>
<path d="M30,208 H329 V417.3" fill="none" stroke="#2a2a2a" stroke-width="1.25"/>
<path d="M30,207.4 V417.3 H329.6" fill="none" stroke="#000" stroke-width="1.6"/>
<path d="M38.35,417.3 v2.5 M56.00,417.3 v4.5 M73.65,417.3 v2.5 M91.30,417.3 v4.5 M108.95,417.3 v2.5 M126.60,417.3 v4.5 M144.25,417.3 v2.5 M161.90,417.3 v4.5 M179.55,417.3 v2.5 M197.20,417.3 v4.5 M214.85,417.3 v2.5 M232.50,417.3 v4.5 M250.15,417.3 v2.5 M267.80,417.3 v4.5 M285.45,417.3 v2.5 M303.10,417.3 v4.5 M320.75,417.3 v2.5" stroke="#000" stroke-width="1.3" fill="none"/>
<text transform="translate(55.2,435.9) scale(1.05,1)" text-anchor="middle" fill="#000" font-size="12.0" font-family="Liberation Sans, sans-serif" font-weight="bold">440</text>
<text transform="translate(90.5,435.9) scale(1.05,1)" text-anchor="middle" fill="#000" font-size="12.0" font-family="Liberation Sans, sans-serif" font-weight="bold">480</text>
<text transform="translate(125.8,435.9) scale(1.05,1)" text-anchor="middle" fill="#000" font-size="12.0" font-family="Liberation Sans, sans-serif" font-weight="bold">520</text>
<text transform="translate(161.1,435.9) scale(1.05,1)" text-anchor="middle" fill="#000" font-size="12.0" font-family="Liberation Sans, sans-serif" font-weight="bold">560</text>
<text transform="translate(196.4,435.9) scale(1.05,1)" text-anchor="middle" fill="#000" font-size="12.0" font-family="Liberation Sans, sans-serif" font-weight="bold">600</text>
<text transform="translate(231.7,435.9) scale(1.05,1)" text-anchor="middle" fill="#000" font-size="12.0" font-family="Liberation Sans, sans-serif" font-weight="bold">640</text>
<text transform="translate(267.0,435.9) scale(1.05,1)" text-anchor="middle" fill="#000" font-size="12.0" font-family="Liberation Sans, sans-serif" font-weight="bold">680</text>
<text transform="translate(302.3,435.9) scale(1.05,1)" text-anchor="middle" fill="#000" font-size="12.0" font-family="Liberation Sans, sans-serif" font-weight="bold">720</text>
<text transform="translate(178.2,452.4) scale(1.045,1)" text-anchor="middle" fill="#000" font-size="12.15" font-family="Liberation Sans, sans-serif" font-weight="bold">Wavelength (nm)</text>
<text transform="translate(22.8,314.95) rotate(-90)" text-anchor="middle" font-size="12.1" textLength="170.89999999999998" lengthAdjust="spacingAndGlyphs" font-family="Liberation Sans, sans-serif" font-weight="bold">Fluorescence Intensity (a.u.)</text>
<text transform="translate(34.6,223.9) scale(1.05,1)" fill="#000" font-size="12.15" font-family="Liberation Sans, sans-serif" font-weight="bold">Compression</text>
<text transform="translate(13.8,216.8) scale(1.07,1)" fill="#000" font-size="14.5" font-family="Liberation Sans, sans-serif" font-weight="bold">b)</text>
<path d="M234.2,215.3 H266.2" stroke="#000" stroke-width="1.8"/>
<text transform="translate(266.4,219.7) scale(1.04,1)" fill="#000" font-size="12.15" font-family="Liberation Sans, sans-serif" font-weight="bold">1atm</text>
<path d="M234.2,231.6 H266.2" stroke="#ff0000" stroke-width="1.8"/>
<text transform="translate(266.4,236.0) scale(1.04,1)" fill="#000" font-size="12.15" font-family="Liberation Sans, sans-serif" font-weight="bold">0.54GPa</text>
<path d="M234.2,247.8 H266.2" stroke="#0000ff" stroke-width="1.8"/>
<text transform="translate(266.4,252.2) scale(1.04,1)" fill="#000" font-size="12.15" font-family="Liberation Sans, sans-serif" font-weight="bold">0.99GPa</text>
<path d="M234.2,264.1 H266.2" stroke="#007000" stroke-width="1.8"/>
<text transform="translate(266.4,268.4) scale(1.04,1)" fill="#000" font-size="12.15" font-family="Liberation Sans, sans-serif" font-weight="bold">2.03GPa</text>
<path d="M234.2,280.3 H266.2" stroke="#8000ff" stroke-width="1.8"/>
<text transform="translate(266.4,284.7) scale(1.04,1)" fill="#000" font-size="12.15" font-family="Liberation Sans, sans-serif" font-weight="bold">4.02GPa</text>
<path d="M234.2,296.6 H266.2" stroke="#600010" stroke-width="1.8"/>
<text transform="translate(266.4,300.9) scale(1.04,1)" fill="#000" font-size="12.15" font-family="Liberation Sans, sans-serif" font-weight="bold">5.90GPa</text>
<path d="M234.2,312.8 H266.2" stroke="#808000" stroke-width="1.8"/>
<text transform="translate(266.4,317.2) scale(1.04,1)" fill="#000" font-size="12.15" font-family="Liberation Sans, sans-serif" font-weight="bold">7.08GPa</text>
<path d="M234.2,329.1 H266.2" stroke="#008080" stroke-width="1.8"/>
<text transform="translate(266.4,333.4) scale(1.04,1)" fill="#000" font-size="12.15" font-family="Liberation Sans, sans-serif" font-weight="bold">9.21GPa</text>
<path d="M234.2,345.3 H266.2" stroke="#a04000" stroke-width="1.8"/>
<text transform="translate(266.4,349.7) scale(1.04,1)" fill="#000" font-size="12.15" font-family="Liberation Sans, sans-serif" font-weight="bold">10.21GPa</text>
<path d="M234.2,361.6 H266.2" stroke="#00e000" stroke-width="1.8"/>
<text transform="translate(266.4,365.9) scale(1.04,1)" fill="#000" font-size="12.15" font-family="Liberation Sans, sans-serif" font-weight="bold">11.12GPa</text>
<path d="M234.2,377.8 H266.2" stroke="#e0007f" stroke-width="1.8"/>
<text transform="translate(266.4,382.2) scale(1.04,1)" fill="#000" font-size="12.15" font-family="Liberation Sans, sans-serif" font-weight="bold">12.06GPa</text>
<rect x="362.2" y="207.6" width="298.3" height="209.1" fill="#fff" stroke="none"/>
<defs><clipPath id="clipc"><rect x="362.2" y="207.6" width="298.3" height="209.1"/></clipPath></defs>
<g clip-path="url(#clipc)" fill="none" stroke-width="1.65" stroke-linejoin="round"><path d="M360.4,414.0 362.2,414.0 363.9,414.0 365.7,414.0 367.4,413.9 369.2,413.9 370.9,413.8 372.7,413.6 374.5,413.3 376.2,412.9 378.0,412.3 379.7,411.6 381.5,410.6 383.2,409.3 385.0,407.7 386.7,405.8 388.5,403.5 390.3,400.9 392.0,397.8 393.8,394.4 395.5,390.5 397.3,386.2 399.0,381.5 400.8,376.5 402.5,371.2 404.3,365.5 406.1,359.6 407.8,353.5 409.6,347.1 411.3,340.6 413.1,334.1 414.8,327.5 416.6,320.8 418.4,314.3 420.1,307.7 421.9,301.4 423.6,295.1 425.4,289.1 427.1,283.2 428.9,277.7 430.6,272.3 432.4,267.3 434.2,262.6 435.9,258.2 437.7,254.1 439.4,250.4 441.2,247.0 442.9,244.0 444.7,241.3 446.4,239.0 448.2,237.0 450.0,235.3 451.7,234.0 453.5,233.0 455.2,232.3 457.0,231.9 458.7,231.8 460.5,232.0 462.3,232.4 464.0,233.2 465.8,234.1 467.5,235.4 469.3,236.8 471.0,238.5 472.8,240.4 474.5,242.5 476.3,244.8 478.1,247.2 479.8,249.8 481.6,252.6 483.3,255.5 485.1,258.5 486.8,261.6 488.6,264.8 490.3,268.1 492.1,271.4 493.9,274.9 495.6,278.3 497.4,281.8 499.1,285.4 500.9,288.9 502.6,292.5 504.4,296.0 506.2,299.6 507.9,303.1 509.7,306.6 511.4,310.1 513.2,313.5 514.9,316.9 516.7,320.3 518.4,323.6 520.2,326.8 522.0,330.0 523.7,333.1 525.5,336.2 527.2,339.2 529.0,342.1 530.7,345.0 532.5,347.7 534.2,350.4 536.0,353.1 537.8,355.6 539.5,358.1 541.3,360.5 543.0,362.8 544.8,365.1 546.5,367.2 548.3,369.3 550.1,371.4 551.8,373.3 553.6,375.2 555.3,377.0 557.1,378.8 558.8,380.4 560.6,382.0 562.3,383.6 564.1,385.1 565.9,386.5 567.6,387.8 569.4,389.1 571.1,390.4 572.9,391.6 574.6,392.7 576.4,393.8 578.1,394.9 579.9,395.8 581.7,396.8 583.4,397.7 585.2,398.6 586.9,399.4 588.7,400.2 590.4,400.9 592.2,401.6 594.0,402.3 595.7,402.9 597.5,403.5 599.2,404.1 601.0,404.6 602.7,405.2 604.5,405.7 606.2,406.1 608.0,406.6 609.8,407.0 611.5,407.4 613.3,407.8 615.0,408.1 616.8,408.5 618.5,408.8 620.3,409.1 622.0,409.4 623.8,409.6 625.6,409.9 627.3,410.1 629.1,410.4 630.8,410.6 632.6,410.8 634.3,411.0 636.1,411.1 637.9,411.3 639.6,411.5 641.4,411.6 643.1,411.8 644.9,411.9 646.6,412.0 648.4,412.1 650.1,412.3 651.9,412.4 653.7,412.5 655.4,412.6 657.2,412.6 658.9,412.7 660.7,412.8 662.4,412.9" stroke="#000000"/><path d="M360.4,414.0 362.2,414.0 363.9,414.0 365.7,413.9 367.4,413.9 369.2,413.8 370.9,413.7 372.7,413.5 374.5,413.3 376.2,412.9 378.0,412.5 379.7,411.9 381.5,411.2 383.2,410.3 385.0,409.2 386.7,407.9 388.5,406.4 390.3,404.7 392.0,402.8 393.8,400.6 395.5,398.1 397.3,395.5 399.0,392.6 400.8,389.5 402.5,386.3 404.3,382.8 406.1,379.2 407.8,375.4 409.6,371.5 411.3,367.5 413.1,363.4 414.8,359.3 416.6,355.2 418.4,351.0 420.1,346.9 421.9,342.8 423.6,338.8 425.4,334.8 427.1,331.0 428.9,327.3 430.6,323.7 432.4,320.2 434.2,316.9 435.9,313.8 437.7,310.8 439.4,308.1 441.2,305.5 442.9,303.1 444.7,301.0 446.4,299.0 448.2,297.2 450.0,295.6 451.7,294.2 453.5,293.1 455.2,292.1 457.0,291.3 458.7,290.7 460.5,290.2 462.3,290.0 464.0,289.9 465.8,290.0 467.5,290.2 469.3,290.6 471.0,291.2 472.8,291.9 474.5,292.7 476.3,293.7 478.1,294.8 479.8,296.0 481.6,297.4 483.3,298.8 485.1,300.4 486.8,302.0 488.6,303.7 490.3,305.6 492.1,307.4 493.9,309.4 495.6,311.4 497.4,313.5 499.1,315.6 500.9,317.7 502.6,319.9 504.4,322.1 506.2,324.3 507.9,326.6 509.7,328.8 511.4,331.1 513.2,333.3 514.9,335.6 516.7,337.8 518.4,340.0 520.2,342.3 522.0,344.4 523.7,346.6 525.5,348.8 527.2,350.9 529.0,353.0 530.7,355.0 532.5,357.0 534.2,359.0 536.0,360.9 537.8,362.8 539.5,364.7 541.3,366.5 543.0,368.3 544.8,370.0 546.5,371.7 548.3,373.4 550.1,374.9 551.8,376.5 553.6,378.0 555.3,379.5 557.1,380.9 558.8,382.3 560.6,383.6 562.3,384.9 564.1,386.1 565.9,387.3 567.6,388.5 569.4,389.6 571.1,390.7 572.9,391.7 574.6,392.7 576.4,393.7 578.1,394.6 579.9,395.5 581.7,396.3 583.4,397.2 585.2,397.9 586.9,398.7 588.7,399.4 590.4,400.1 592.2,400.8 594.0,401.4 595.7,402.0 597.5,402.6 599.2,403.2 601.0,403.7 602.7,404.2 604.5,404.7 606.2,405.2 608.0,405.6 609.8,406.0 611.5,406.5 613.3,406.8 615.0,407.2 616.8,407.6 618.5,407.9 620.3,408.2 622.0,408.5 623.8,408.8 625.6,409.1 627.3,409.3 629.1,409.6 630.8,409.8 632.6,410.0 634.3,410.2 636.1,410.4 637.9,410.6 639.6,410.8 641.4,411.0 643.1,411.2 644.9,411.3 646.6,411.5 648.4,411.6 650.1,411.7 651.9,411.9 653.7,412.0 655.4,412.1 657.2,412.2 658.9,412.3 660.7,412.4 662.4,412.5" stroke="#ff0000"/><path d="M360.4,414.0 362.2,414.0 363.9,414.0 365.7,414.0 367.4,413.9 369.2,413.9 370.9,413.8 372.7,413.7 374.5,413.5 376.2,413.2 378.0,412.9 379.7,412.5 381.5,412.0 383.2,411.3 385.0,410.5 386.7,409.5 388.5,408.4 390.3,407.1 392.0,405.6 393.8,404.0 395.5,402.1 397.3,400.1 399.0,397.8 400.8,395.4 402.5,392.9 404.3,390.1 406.1,387.3 407.8,384.3 409.6,381.1 411.3,377.9 413.1,374.6 414.8,371.3 416.6,367.9 418.4,364.5 420.1,361.1 421.9,357.7 423.6,354.3 425.4,351.0 427.1,347.7 428.9,344.5 430.6,341.4 432.4,338.4 434.2,335.5 435.9,332.8 437.7,330.1 439.4,327.7 441.2,325.3 442.9,323.1 444.7,321.1 446.4,319.2 448.2,317.5 450.0,316.0 451.7,314.6 453.5,313.4 455.2,312.3 457.0,311.4 458.7,310.6 460.5,310.0 462.3,309.5 464.0,309.2 465.8,309.0 467.5,309.0 469.3,309.1 471.0,309.3 472.8,309.7 474.5,310.1 476.3,310.7 478.1,311.4 479.8,312.3 481.6,313.2 483.3,314.2 485.1,315.3 486.8,316.5 488.6,317.8 490.3,319.2 492.1,320.6 493.9,322.1 495.6,323.7 497.4,325.3 499.1,327.0 500.9,328.7 502.6,330.4 504.4,332.2 506.2,334.0 507.9,335.8 509.7,337.7 511.4,339.5 513.2,341.4 514.9,343.3 516.7,345.1 518.4,347.0 520.2,348.9 522.0,350.7 523.7,352.6 525.5,354.4 527.2,356.2 529.0,358.0 530.7,359.8 532.5,361.5 534.2,363.2 536.0,364.9 537.8,366.6 539.5,368.2 541.3,369.8 543.0,371.4 544.8,372.9 546.5,374.4 548.3,375.9 550.1,377.3 551.8,378.7 553.6,380.0 555.3,381.3 557.1,382.6 558.8,383.9 560.6,385.1 562.3,386.2 564.1,387.4 565.9,388.5 567.6,389.5 569.4,390.6 571.1,391.5 572.9,392.5 574.6,393.4 576.4,394.3 578.1,395.2 579.9,396.0 581.7,396.8 583.4,397.6 585.2,398.3 586.9,399.0 588.7,399.7 590.4,400.4 592.2,401.0 594.0,401.6 595.7,402.2 597.5,402.7 599.2,403.3 601.0,403.8 602.7,404.3 604.5,404.7 606.2,405.2 608.0,405.6 609.8,406.0 611.5,406.4 613.3,406.8 615.0,407.2 616.8,407.5 618.5,407.8 620.3,408.1 622.0,408.4 623.8,408.7 625.6,409.0 627.3,409.2 629.1,409.5 630.8,409.7 632.6,409.9 634.3,410.1 636.1,410.3 637.9,410.5 639.6,410.7 641.4,410.9 643.1,411.1 644.9,411.2 646.6,411.4 648.4,411.5 650.1,411.6 651.9,411.8 653.7,411.9 655.4,412.0 657.2,412.1 658.9,412.2 660.7,412.3 662.4,412.4" stroke="#0000ff"/><path d="M360.4,414.0 362.2,414.0 363.9,414.0 365.7,414.0 367.4,414.0 369.2,414.0 370.9,414.0 372.7,414.0 374.5,414.0 376.2,413.9 378.0,413.8 379.7,413.8 381.5,413.6 383.2,413.4 385.0,413.2 386.7,412.8 388.5,412.4 390.3,411.8 392.0,411.1 393.8,410.3 395.5,409.4 397.3,408.3 399.0,407.0 400.8,405.6 402.5,404.0 404.3,402.2 406.1,400.3 407.8,398.2 409.6,396.0 411.3,393.6 413.1,391.2 414.8,388.6 416.6,385.9 418.4,383.2 420.1,380.4 421.9,377.5 423.6,374.6 425.4,371.8 427.1,368.9 428.9,366.0 430.6,363.2 432.4,360.5 434.2,357.8 435.9,355.1 437.7,352.6 439.4,350.2 441.2,347.9 442.9,345.7 444.7,343.6 446.4,341.6 448.2,339.8 450.0,338.1 451.7,336.6 453.5,335.2 455.2,333.9 457.0,332.8 458.7,331.8 460.5,330.9 462.3,330.2 464.0,329.6 465.8,329.2 467.5,328.9 469.3,328.7 471.0,328.6 472.8,328.6 474.5,328.8 476.3,329.0 478.1,329.4 479.8,329.8 481.6,330.4 483.3,331.0 485.1,331.7 486.8,332.5 488.6,333.4 490.3,334.3 492.1,335.3 493.9,336.4 495.6,337.6 497.4,338.8 499.1,340.0 500.9,341.3 502.6,342.6 504.4,344.0 506.2,345.4 507.9,346.8 509.7,348.3 511.4,349.7 513.2,351.2 514.9,352.7 516.7,354.2 518.4,355.8 520.2,357.3 522.0,358.8 523.7,360.3 525.5,361.8 527.2,363.3 529.0,364.8 530.7,366.3 532.5,367.7 534.2,369.2 536.0,370.6 537.8,372.0 539.5,373.4 541.3,374.7 543.0,376.1 544.8,377.4 546.5,378.6 548.3,379.9 550.1,381.1 551.8,382.3 553.6,383.5 555.3,384.6 557.1,385.7 558.8,386.8 560.6,387.9 562.3,388.9 564.1,389.9 565.9,390.9 567.6,391.8 569.4,392.7 571.1,393.6 572.9,394.4 574.6,395.2 576.4,396.0 578.1,396.8 579.9,397.5 581.7,398.3 583.4,398.9 585.2,399.6 586.9,400.2 588.7,400.9 590.4,401.5 592.2,402.0 594.0,402.6 595.7,403.1 597.5,403.6 599.2,404.1 601.0,404.5 602.7,405.0 604.5,405.4 606.2,405.8 608.0,406.2 609.8,406.6 611.5,406.9 613.3,407.3 615.0,407.6 616.8,407.9 618.5,408.2 620.3,408.5 622.0,408.8 623.8,409.0 625.6,409.3 627.3,409.5 629.1,409.8 630.8,410.0 632.6,410.2 634.3,410.4 636.1,410.6 637.9,410.7 639.6,410.9 641.4,411.1 643.1,411.2 644.9,411.4 646.6,411.5 648.4,411.6 650.1,411.8 651.9,411.9 653.7,412.0 655.4,412.1 657.2,412.2 658.9,412.3 660.7,412.4 662.4,412.5" stroke="#ff00ff"/><path d="M360.4,414.0 362.2,414.0 363.9,414.0 365.7,414.0 367.4,414.0 369.2,414.0 370.9,414.0 372.7,414.0 374.5,414.0 376.2,414.0 378.0,414.0 379.7,413.9 381.5,413.9 383.2,413.8 385.0,413.7 386.7,413.5 388.5,413.3 390.3,413.0 392.0,412.7 393.8,412.2 395.5,411.7 397.3,411.1 399.0,410.4 400.8,409.5 402.5,408.5 404.3,407.4 406.1,406.2 407.8,404.9 409.6,403.4 411.3,401.8 413.1,400.2 414.8,398.4 416.6,396.5 418.4,394.5 420.1,392.5 421.9,390.3 423.6,388.2 425.4,386.0 427.1,383.7 428.9,381.5 430.6,379.2 432.4,377.0 434.2,374.8 435.9,372.6 437.7,370.4 439.4,368.3 441.2,366.3 442.9,364.3 444.7,362.4 446.4,360.6 448.2,358.8 450.0,357.2 451.7,355.6 453.5,354.2 455.2,352.8 457.0,351.6 458.7,350.5 460.5,349.4 462.3,348.5 464.0,347.7 465.8,347.0 467.5,346.4 469.3,345.9 471.0,345.5 472.8,345.2 474.5,345.0 476.3,344.8 478.1,344.8 479.8,344.9 481.6,345.0 483.3,345.2 485.1,345.6 486.8,346.0 488.6,346.4 490.3,347.0 492.1,347.6 493.9,348.3 495.6,349.1 497.4,349.9 499.1,350.8 500.9,351.7 502.6,352.7 504.4,353.7 506.2,354.7 507.9,355.8 509.7,357.0 511.4,358.1 513.2,359.3 514.9,360.5 516.7,361.7 518.4,362.9 520.2,364.2 522.0,365.4 523.7,366.7 525.5,367.9 527.2,369.2 529.0,370.5 530.7,371.7 532.5,372.9 534.2,374.2 536.0,375.4 537.8,376.6 539.5,377.8 541.3,379.0 543.0,380.1 544.8,381.3 546.5,382.4 548.3,383.5 550.1,384.6 551.8,385.6 553.6,386.7 555.3,387.7 557.1,388.7 558.8,389.6 560.6,390.6 562.3,391.5 564.1,392.4 565.9,393.2 567.6,394.1 569.4,394.9 571.1,395.6 572.9,396.4 574.6,397.1 576.4,397.9 578.1,398.6 579.9,399.2 581.7,399.9 583.4,400.5 585.2,401.1 586.9,401.7 588.7,402.2 590.4,402.7 592.2,403.3 594.0,403.7 595.7,404.2 597.5,404.7 599.2,405.1 601.0,405.5 602.7,405.9 604.5,406.3 606.2,406.7 608.0,407.0 609.8,407.4 611.5,407.7 613.3,408.0 615.0,408.3 616.8,408.6 618.5,408.9 620.3,409.1 622.0,409.4 623.8,409.6 625.6,409.8 627.3,410.0 629.1,410.2 630.8,410.4 632.6,410.6 634.3,410.8 636.1,411.0 637.9,411.1 639.6,411.3 641.4,411.4 643.1,411.6 644.9,411.7 646.6,411.8 648.4,411.9 650.1,412.0 651.9,412.1 653.7,412.2 655.4,412.3 657.2,412.4 658.9,412.5 660.7,412.6 662.4,412.7" stroke="#007000"/><path d="M360.4,414.0 362.2,414.0 363.9,414.0 365.7,414.0 367.4,414.0 369.2,414.0 370.9,414.0 372.7,414.0 374.5,414.0 376.2,414.0 378.0,414.0 379.7,414.0 381.5,414.0 383.2,413.9 385.0,413.9 386.7,413.8 388.5,413.7 390.3,413.6 392.0,413.4 393.8,413.1 395.5,412.8 397.3,412.4 399.0,411.9 400.8,411.3 402.5,410.6 404.3,409.8 406.1,408.9 407.8,407.9 409.6,406.7 411.3,405.5 413.1,404.1 414.8,402.6 416.6,401.0 418.4,399.3 420.1,397.5 421.9,395.6 423.6,393.7 425.4,391.7 427.1,389.7 428.9,387.6 430.6,385.5 432.4,383.4 434.2,381.3 435.9,379.3 437.7,377.2 439.4,375.2 441.2,373.2 442.9,371.3 444.7,369.4 446.4,367.6 448.2,365.9 450.0,364.3 451.7,362.8 453.5,361.3 455.2,360.0 457.0,358.7 458.7,357.5 460.5,356.5 462.3,355.5 464.0,354.7 465.8,353.9 467.5,353.2 469.3,352.7 471.0,352.2 472.8,351.9 474.5,351.6 476.3,351.4 478.1,351.3 479.8,351.3 481.6,351.4 483.3,351.5 485.1,351.8 486.8,352.1 488.6,352.5 490.3,353.0 492.1,353.5 493.9,354.1 495.6,354.8 497.4,355.5 499.1,356.3 500.9,357.1 502.6,358.0 504.4,358.9 506.2,359.9 507.9,360.9 509.7,361.9 511.4,362.9 513.2,364.0 514.9,365.1 516.7,366.2 518.4,367.4 520.2,368.5 522.0,369.7 523.7,370.8 525.5,372.0 527.2,373.1 529.0,374.3 530.7,375.5 532.5,376.6 534.2,377.7 536.0,378.9 537.8,380.0 539.5,381.1 541.3,382.2 543.0,383.2 544.8,384.3 546.5,385.3 548.3,386.4 550.1,387.3 551.8,388.3 553.6,389.3 555.3,390.2 557.1,391.1 558.8,392.0 560.6,392.9 562.3,393.7 564.1,394.5 565.9,395.3 567.6,396.1 569.4,396.8 571.1,397.5 572.9,398.2 574.6,398.9 576.4,399.6 578.1,400.2 579.9,400.8 581.7,401.4 583.4,401.9 585.2,402.5 586.9,403.0 588.7,403.5 590.4,404.0 592.2,404.5 594.0,404.9 595.7,405.3 597.5,405.8 599.2,406.2 601.0,406.5 602.7,406.9 604.5,407.2 606.2,407.6 608.0,407.9 609.8,408.2 611.5,408.5 613.3,408.8 615.0,409.0 616.8,409.3 618.5,409.5 620.3,409.7 622.0,410.0 623.8,410.2 625.6,410.4 627.3,410.6 629.1,410.7 630.8,410.9 632.6,411.1 634.3,411.2 636.1,411.4 637.9,411.5 639.6,411.7 641.4,411.8 643.1,411.9 644.9,412.0 646.6,412.1 648.4,412.2 650.1,412.3 651.9,412.4 653.7,412.5 655.4,412.6 657.2,412.7 658.9,412.7 660.7,412.8 662.4,412.9" stroke="#101060"/><path d="M360.4,414.0 362.2,414.0 363.9,414.0 365.7,414.0 367.4,414.0 369.2,414.0 370.9,414.0 372.7,414.0 374.5,414.0 376.2,414.0 378.0,414.0 379.7,414.0 381.5,414.0 383.2,414.0 385.0,414.0 386.7,414.0 388.5,414.0 390.3,414.0 392.0,414.0 393.8,414.0 395.5,414.0 397.3,414.0 399.0,414.0 400.8,414.0 402.5,414.0 404.3,414.0 406.1,414.0 407.8,414.0 409.6,414.0 411.3,414.0 413.1,414.0 414.8,413.9 416.6,413.9 418.4,413.8 420.1,413.8 421.9,413.7 423.6,413.5 425.4,413.4 427.1,413.2 428.9,412.9 430.6,412.7 432.4,412.3 434.2,412.0 435.9,411.6 437.7,411.1 439.4,410.6 441.2,410.0 442.9,409.4 444.7,408.7 446.4,408.0 448.2,407.3 450.0,406.6 451.7,405.8 453.5,405.0 455.2,404.1 457.0,403.3 458.7,402.4 460.5,401.6 462.3,400.7 464.0,399.9 465.8,399.1 467.5,398.2 469.3,397.5 471.0,396.7 472.8,395.9 474.5,395.2 476.3,394.5 478.1,393.9 479.8,393.3 481.6,392.7 483.3,392.2 485.1,391.7 486.8,391.2 488.6,390.8 490.3,390.5 492.1,390.2 493.9,389.9 495.6,389.6 497.4,389.4 499.1,389.3 500.9,389.1 502.6,389.1 504.4,389.0 506.2,389.0 507.9,389.0 509.7,389.1 511.4,389.2 513.2,389.3 514.9,389.4 516.7,389.6 518.4,389.8 520.2,390.0 522.0,390.2 523.7,390.5 525.5,390.8 527.2,391.1 529.0,391.4 530.7,391.8 532.5,392.1 534.2,392.5 536.0,392.9 537.8,393.3 539.5,393.7 541.3,394.1 543.0,394.5 544.8,395.0 546.5,395.4 548.3,395.9 550.1,396.3 551.8,396.7 553.6,397.2 555.3,397.6 557.1,398.1 558.8,398.5 560.6,399.0 562.3,399.4 564.1,399.9 565.9,400.3 567.6,400.7 569.4,401.1 571.1,401.6 572.9,402.0 574.6,402.4 576.4,402.8 578.1,403.2 579.9,403.5 581.7,403.9 583.4,404.3 585.2,404.6 586.9,405.0 588.7,405.3 590.4,405.6 592.2,406.0 594.0,406.3 595.7,406.6 597.5,406.9 599.2,407.2 601.0,407.4 602.7,407.7 604.5,408.0 606.2,408.2 608.0,408.5 609.8,408.7 611.5,408.9 613.3,409.2 615.0,409.4 616.8,409.6 618.5,409.8 620.3,410.0 622.0,410.1 623.8,410.3 625.6,410.5 627.3,410.6 629.1,410.8 630.8,410.9 632.6,411.1 634.3,411.2 636.1,411.4 637.9,411.5 639.6,411.6 641.4,411.7 643.1,411.8 644.9,411.9 646.6,412.0 648.4,412.1 650.1,412.2 651.9,412.3 653.7,412.4 655.4,412.5 657.2,412.6 658.9,412.6 660.7,412.7 662.4,412.8" stroke="#8000ff"/><path d="M360.4,414.0 362.2,414.0 363.9,414.0 365.7,414.0 367.4,414.0 369.2,414.0 370.9,414.0 372.7,414.0 374.5,414.0 376.2,414.0 378.0,414.0 379.7,414.0 381.5,414.0 383.2,414.0 385.0,414.0 386.7,414.0 388.5,414.0 390.3,414.0 392.0,414.0 393.8,414.0 395.5,414.0 397.3,414.0 399.0,414.0 400.8,414.0 402.5,414.0 404.3,414.0 406.1,414.0 407.8,414.0 409.6,414.0 411.3,414.0 413.1,414.0 414.8,414.0 416.6,414.0 418.4,414.0 420.1,414.0 421.9,414.0 423.6,414.0 425.4,414.0 427.1,414.0 428.9,414.0 430.6,414.0 432.4,414.0 434.2,414.0 435.9,413.9 437.7,413.9 439.4,413.9 441.2,413.8 442.9,413.8 444.7,413.7 446.4,413.6 448.2,413.5 450.0,413.4 451.7,413.3 453.5,413.1 455.2,412.9 457.0,412.7 458.7,412.5 460.5,412.3 462.3,412.0 464.0,411.7 465.8,411.4 467.5,411.1 469.3,410.8 471.0,410.5 472.8,410.1 474.5,409.7 476.3,409.4 478.1,409.0 479.8,408.6 481.6,408.2 483.3,407.8 485.1,407.4 486.8,407.0 488.6,406.7 490.3,406.3 492.1,405.9 493.9,405.5 495.6,405.2 497.4,404.9 499.1,404.5 500.9,404.2 502.6,403.9 504.4,403.7 506.2,403.4 507.9,403.1 509.7,402.9 511.4,402.7 513.2,402.5 514.9,402.3 516.7,402.2 518.4,402.0 520.2,401.9 522.0,401.8 523.7,401.7 525.5,401.6 527.2,401.6 529.0,401.5 530.7,401.5 532.5,401.5 534.2,401.5 536.0,401.5 537.8,401.5 539.5,401.6 541.3,401.6 543.0,401.7 544.8,401.8 546.5,401.9 548.3,402.0 550.1,402.1 551.8,402.2 553.6,402.3 555.3,402.5 557.1,402.6 558.8,402.8 560.6,402.9 562.3,403.1 564.1,403.3 565.9,403.5 567.6,403.6 569.4,403.8 571.1,404.0 572.9,404.2 574.6,404.4 576.4,404.6 578.1,404.8 579.9,405.0 581.7,405.2 583.4,405.4 585.2,405.6 586.9,405.8 588.7,406.0 590.4,406.2 592.2,406.4 594.0,406.6 595.7,406.8 597.5,407.0 599.2,407.2 601.0,407.4 602.7,407.6 604.5,407.8 606.2,408.0 608.0,408.2 609.8,408.4 611.5,408.6 613.3,408.7 615.0,408.9 616.8,409.1 618.5,409.2 620.3,409.4 622.0,409.6 623.8,409.7 625.6,409.9 627.3,410.0 629.1,410.1 630.8,410.3 632.6,410.4 634.3,410.6 636.1,410.7 637.9,410.8 639.6,410.9 641.4,411.0 643.1,411.2 644.9,411.3 646.6,411.4 648.4,411.5 650.1,411.6 651.9,411.7 653.7,411.8 655.4,411.9 657.2,411.9 658.9,412.0 660.7,412.1 662.4,412.2" stroke="#800080"/><path d="M360.4,414.1 362.2,414.1 363.9,414.1 365.7,414.1 367.4,414.1 369.2,414.1 370.9,414.1 372.7,414.1 374.5,414.1 376.2,414.1 378.0,414.1 379.7,414.1 381.5,414.1 383.2,414.1 385.0,414.1 386.7,414.1 388.5,414.1 390.3,414.1 392.0,414.1 393.8,414.1 395.5,414.1 397.3,414.1 399.0,414.1 400.8,414.1 402.5,414.1 404.3,414.1 406.1,414.1 407.8,414.1 409.6,414.1 411.3,414.1 413.1,414.1 414.8,414.1 416.6,414.1 418.4,414.1 420.1,414.1 421.9,414.1 423.6,414.1 425.4,414.1 427.1,414.1 428.9,414.1 430.6,414.1 432.4,414.1 434.2,414.1 435.9,414.1 437.7,414.1 439.4,414.1 441.2,414.1 442.9,414.1 444.7,414.1 446.4,414.1 448.2,414.1 450.0,414.1 451.7,414.1 453.5,414.0 455.2,414.0 457.0,414.0 458.7,414.0 460.5,414.0 462.3,413.9 464.0,413.9 465.8,413.9 467.5,413.8 469.3,413.8 471.0,413.8 472.8,413.7 474.5,413.7 476.3,413.6 478.1,413.6 479.8,413.5 481.6,413.4 483.3,413.4 485.1,413.3 486.8,413.2 488.6,413.2 490.3,413.1 492.1,413.0 493.9,413.0 495.6,412.9 497.4,412.8 499.1,412.7 500.9,412.7 502.6,412.6 504.4,412.5 506.2,412.5 507.9,412.4 509.7,412.3 511.4,412.3 513.2,412.2 514.9,412.2 516.7,412.1 518.4,412.0 520.2,412.0 522.0,412.0 523.7,411.9 525.5,411.9 527.2,411.8 529.0,411.8 530.7,411.8 532.5,411.7 534.2,411.7 536.0,411.7 537.8,411.7 539.5,411.6 541.3,411.6 543.0,411.6 544.8,411.6 546.5,411.6 548.3,411.6 550.1,411.6 551.8,411.6 553.6,411.6 555.3,411.6 557.1,411.6 558.8,411.6 560.6,411.6 562.3,411.7 564.1,411.7 565.9,411.7 567.6,411.7 569.4,411.7 571.1,411.8 572.9,411.8 574.6,411.8 576.4,411.8 578.1,411.9 579.9,411.9 581.7,411.9 583.4,411.9 585.2,412.0 586.9,412.0 588.7,412.1 590.4,412.1 592.2,412.1 594.0,412.2 595.7,412.2 597.5,412.2 599.2,412.3 601.0,412.3 602.7,412.3 604.5,412.4 606.2,412.4 608.0,412.5 609.8,412.5 611.5,412.5 613.3,412.6 615.0,412.6 616.8,412.6 618.5,412.7 620.3,412.7 622.0,412.8 623.8,412.8 625.6,412.8 627.3,412.9 629.1,412.9 630.8,412.9 632.6,413.0 634.3,413.0 636.1,413.0 637.9,413.1 639.6,413.1 641.4,413.1 643.1,413.2 644.9,413.2 646.6,413.2 648.4,413.2 650.1,413.3 651.9,413.3 653.7,413.3 655.4,413.3 657.2,413.4 658.9,413.4 660.7,413.4 662.4,413.4" stroke="#0808b0"/><path d="M458.5,231.8 L464.1,289.9 L467.3,309.0 L471.2,328.6 L474.8,344.8 L477.4,351.3 L501.0,390.0 L518.0,403.6 L550.4,411.4" stroke="#1414ff" stroke-width="1.5" stroke-dasharray="5 3"/></g>
<path transform="translate(458.5,231.8) rotate(-95.5)" d="M4,0 L-3,-2.8 L-1,0 L-3,2.8 Z" fill="#1414ff"/>
<path transform="translate(464.1,289.9) rotate(-99.5)" d="M4,0 L-3,-2.8 L-1,0 L-3,2.8 Z" fill="#1414ff"/>
<path transform="translate(467.3,309.0) rotate(-101.3)" d="M4,0 L-3,-2.8 L-1,0 L-3,2.8 Z" fill="#1414ff"/>
<path transform="translate(471.2,328.6) rotate(-102.5)" d="M4,0 L-3,-2.8 L-1,0 L-3,2.8 Z" fill="#1414ff"/>
<path transform="translate(474.8,344.8) rotate(-111.8)" d="M4,0 L-3,-2.8 L-1,0 L-3,2.8 Z" fill="#1414ff"/>
<path transform="translate(477.4,351.3) rotate(-121.4)" d="M4,0 L-3,-2.8 L-1,0 L-3,2.8 Z" fill="#1414ff"/>
<path transform="translate(501.0,390.0) rotate(-141.3)" d="M4,0 L-3,-2.8 L-1,0 L-3,2.8 Z" fill="#1414ff"/>
<path transform="translate(518.0,403.6) rotate(-166.5)" d="M4,0 L-3,-2.8 L-1,0 L-3,2.8 Z" fill="#1414ff"/>
<path transform="translate(550.4,411.4) rotate(-166.5)" d="M4,0 L-3,-2.8 L-1,0 L-3,2.8 Z" fill="#1414ff"/>
<path d="M362.2,207.6 H660.5 V416.7" fill="none" stroke="#2a2a2a" stroke-width="1.25"/>
<path d="M362.2,207.0 V416.7 H661.1" fill="none" stroke="#000" stroke-width="1.6"/>
<path d="M370.94,416.7 v2.5 M388.50,416.7 v4.5 M406.06,416.7 v2.5 M423.62,416.7 v4.5 M441.18,416.7 v2.5 M458.74,416.7 v4.5 M476.30,416.7 v2.5 M493.86,416.7 v4.5 M511.42,416.7 v2.5 M528.98,416.7 v4.5 M546.54,416.7 v2.5 M564.10,416.7 v4.5 M581.66,416.7 v2.5 M599.22,416.7 v4.5 M616.78,416.7 v2.5 M634.34,416.7 v4.5 M651.90,416.7 v2.5" stroke="#000" stroke-width="1.3" fill="none"/>
<text transform="translate(387.7,435.9) scale(1.05,1)" text-anchor="middle" fill="#000" font-size="12.0" font-family="Liberation Sans, sans-serif" font-weight="bold">440</text>
<text transform="translate(422.8,435.9) scale(1.05,1)" text-anchor="middle" fill="#000" font-size="12.0" font-family="Liberation Sans, sans-serif" font-weight="bold">480</text>
<text transform="translate(457.9,435.9) scale(1.05,1)" text-anchor="middle" fill="#000" font-size="12.0" font-family="Liberation Sans, sans-serif" font-weight="bold">520</text>
<text transform="translate(493.1,435.9) scale(1.05,1)" text-anchor="middle" fill="#000" font-size="12.0" font-family="Liberation Sans, sans-serif" font-weight="bold">560</text>
<text transform="translate(528.2,435.9) scale(1.05,1)" text-anchor="middle" fill="#000" font-size="12.0" font-family="Liberation Sans, sans-serif" font-weight="bold">600</text>
<text transform="translate(563.3,435.9) scale(1.05,1)" text-anchor="middle" fill="#000" font-size="12.0" font-family="Liberation Sans, sans-serif" font-weight="bold">640</text>
<text transform="translate(598.4,435.9) scale(1.05,1)" text-anchor="middle" fill="#000" font-size="12.0" font-family="Liberation Sans, sans-serif" font-weight="bold">680</text>
<text transform="translate(633.5,435.9) scale(1.05,1)" text-anchor="middle" fill="#000" font-size="12.0" font-family="Liberation Sans, sans-serif" font-weight="bold">720</text>
<text transform="translate(511,452.4) scale(1.045,1)" text-anchor="middle" fill="#000" font-size="12.15" font-family="Liberation Sans, sans-serif" font-weight="bold">Wavelength (nm)</text>
<text transform="translate(353.1,312.6) rotate(-90)" text-anchor="middle" font-size="12.1" textLength="169.59999999999997" lengthAdjust="spacingAndGlyphs" font-family="Liberation Sans, sans-serif" font-weight="bold">Fluorescence Intensity (a.u.)</text>
<text transform="translate(367.2,223.9) scale(1.05,1)" fill="#000" font-size="12.15" font-family="Liberation Sans, sans-serif" font-weight="bold">Decompression</text>
<text transform="translate(340.8,216.4) scale(1.07,1)" fill="#000" font-size="14.5" font-family="Liberation Sans, sans-serif" font-weight="bold">c)</text>
<path d="M559.5,221.8 H590.8" stroke="#0000a0" stroke-width="1.8"/>
<text transform="translate(591.0,226.2) scale(1.04,1)" fill="#000" font-size="12.15" font-family="Liberation Sans, sans-serif" font-weight="bold">12.06GPa</text>
<path d="M559.5,238.0 H590.8" stroke="#800080" stroke-width="1.8"/>
<text transform="translate(591.0,242.4) scale(1.04,1)" fill="#000" font-size="12.15" font-family="Liberation Sans, sans-serif" font-weight="bold">6.67GPa</text>
<path d="M559.5,254.1 H590.8" stroke="#8000ff" stroke-width="1.8"/>
<text transform="translate(591.0,258.5) scale(1.04,1)" fill="#000" font-size="12.15" font-family="Liberation Sans, sans-serif" font-weight="bold">3.84GPa</text>
<path d="M559.5,270.2 H590.8" stroke="#303090" stroke-width="1.8"/>
<text transform="translate(591.0,274.6) scale(1.04,1)" fill="#000" font-size="12.15" font-family="Liberation Sans, sans-serif" font-weight="bold">2.07GPa</text>
<path d="M559.5,286.4 H590.8" stroke="#007000" stroke-width="1.8"/>
<text transform="translate(591.0,290.8) scale(1.04,1)" fill="#000" font-size="12.15" font-family="Liberation Sans, sans-serif" font-weight="bold">1.36GPa</text>
<path d="M559.5,302.6 H590.8" stroke="#ff00ff" stroke-width="1.8"/>
<text transform="translate(591.0,306.9) scale(1.04,1)" fill="#000" font-size="12.15" font-family="Liberation Sans, sans-serif" font-weight="bold">0.69GPa</text>
<path d="M559.5,318.7 H590.8" stroke="#0000ff" stroke-width="1.8"/>
<text transform="translate(591.0,323.1) scale(1.04,1)" fill="#000" font-size="12.15" font-family="Liberation Sans, sans-serif" font-weight="bold">0.41GPa</text>
<path d="M559.5,334.9 H590.8" stroke="#ff0000" stroke-width="1.8"/>
<text transform="translate(591.0,339.2) scale(1.04,1)" fill="#000" font-size="12.15" font-family="Liberation Sans, sans-serif" font-weight="bold">0.19GPa</text>
<path d="M559.5,351.0 H590.8" stroke="#000" stroke-width="1.8"/>
<text transform="translate(591.0,355.4) scale(1.04,1)" fill="#000" font-size="12.15" font-family="Liberation Sans, sans-serif" font-weight="bold">1atm</text>
</svg></body></html>
